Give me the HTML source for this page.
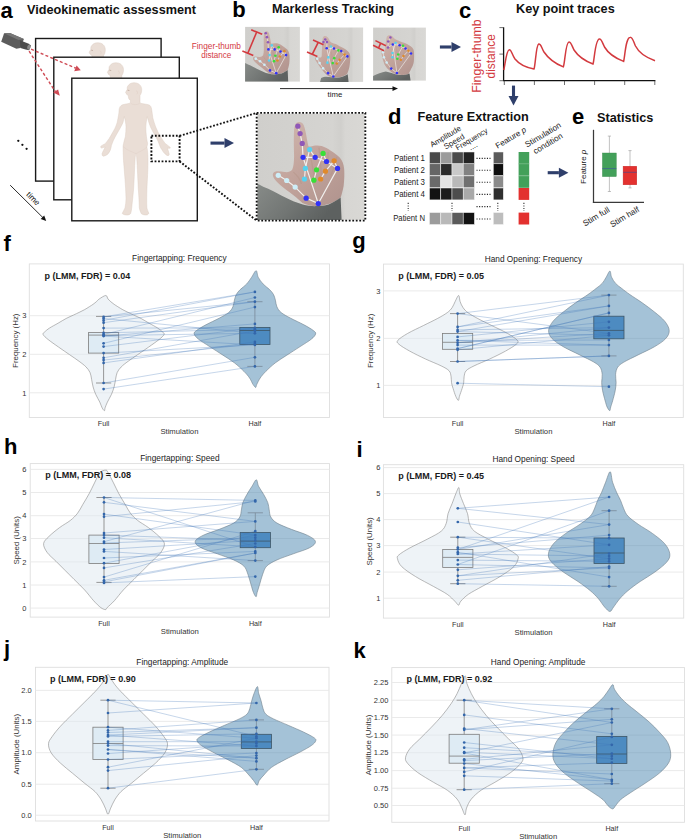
<!DOCTYPE html>
<html><head><meta charset="utf-8"><style>
html,body{margin:0;padding:0;background:#fff;width:685px;height:840px;overflow:hidden;}
svg{display:block;}
text{font-family:"Liberation Sans", sans-serif;}
</style></head><body>
<svg width="685" height="840" viewBox="0 0 685 840" font-family='"Liberation Sans", sans-serif'>
<rect width="685" height="840" fill="#ffffff"/>
<text x="0.50" y="17.80" font-size="22" text-anchor="start" fill="#000" font-weight="bold">a</text>
<text x="27.00" y="13.70" font-size="12.7" text-anchor="start" fill="#111" font-weight="bold">Videokinematic assessment</text>
<defs>
<clipPath id="fc0"><rect x="35.6" y="38.5" width="125.5" height="142.6"/></clipPath>
<clipPath id="fc1"><rect x="53.8" y="57.2" width="125.5" height="142.6"/></clipPath>
<clipPath id="fc2"><rect x="71.8" y="78.2" width="125.5" height="142.6"/></clipPath>
</defs>
<rect x="35.6" y="38.5" width="125.5" height="142.6" fill="#fff" stroke="#1a1a1a" stroke-width="1.4"/>
<g transform="translate(-36.40,-40.00)" clip-path="url(#fc0)">
<path d="M130.6,100.2 L130.2,103.2 C127,104 122.5,104.3 121.3,105.4 C119.8,106.6 119.3,108 119.1,110 L118.9,113 C118.3,117 117.7,120 117.2,122.4 C116,126 115,128.5 113.7,130.6 C112,133.5 110.5,136.5 109,138.7 C107.8,140.5 106.5,142 105.5,143.4 C104,144.5 101.8,145.3 100.8,146.3 C100.6,147.2 101,148 101.4,148.1 C102.8,147.8 104,147.3 105.2,147 C104,149.5 102.5,152 102,153.9 C102.2,155 102.6,156.2 103.2,156.2 C104.5,156 105.8,155.6 106.7,155.1 C108.3,153.8 109.5,152 110.2,150.4 C110.8,149 111.2,147 111.4,145.5 C112.5,142 114,139 115.4,136.4 C117,133.5 118.8,130.5 120.1,128.2 C121.5,125.8 122.4,124 123,122.4 C123.6,120 124,118 124.3,116.5 C125.2,120 126,124 126,127 C126,130 125.8,133 125.4,136.4 C124.8,139 124,141 123.6,143.4 C123.2,145 123,146 123.1,147.1 C123.2,152 123.3,156 123.5,160.4 C124,167 124.6,173 125,179.4 C125.5,186 125.9,192 126,198.4 C126,202 125.6,205 125,207.9 C124.2,210 122.8,211.8 122.2,213.5 C123.5,214.6 125.2,215 127,215 C128.5,215 129.8,214.6 130.7,213.5 C131.2,211.5 131.6,209.5 131.7,207.9 C132.5,200 133.2,194 133.6,188.9 C134,182 134.3,176 134.5,169.9 C134.8,164 135.1,158 135.5,154.7 C135.8,153.3 136.1,153.3 136.4,154.7 C136.8,158 137.1,164 137.4,169.9 C137.7,176 138,182 138.3,188.9 C138.7,194 139.1,200 139.3,207.9 C139.6,209.5 140.3,211.5 141.2,213.5 C142.5,214.6 144.2,215 146,215 C147.5,215 148.4,214.4 148.8,213.2 C148.2,211.5 147.2,209.8 146.9,207.9 C146.6,203 146.7,196 146.9,188.9 C147.2,182 147.6,176 147.8,169.9 C148,164 148,158 147.8,154.7 C147.6,151 147.3,149 146.9,147.1 C147.2,145.5 147.5,144.5 147.6,143.4 C147.2,141 146.6,139 146.4,136.4 C146,133 145.8,130 145.8,127 C145.8,124 146.6,120 147.2,116.5 C148.2,120 149.2,124 150.5,127 C152,130.5 154,133.5 155.7,136.4 C157.3,139.5 158.8,142.5 159.8,145.7 C160.5,147.5 161,148.5 161.6,149.2 C162.5,151 163.8,152.8 165.1,153.9 C166,154.8 167,155.5 168,155.7 C168.8,155.5 169.3,154.8 169.2,153.9 C168.8,152 168,150 167.4,148.1 C168.4,148.3 169.5,148.5 170.3,148.1 C170.4,147.5 170.1,147 169.7,146.9 C168.5,145.8 166.5,144.5 165.1,143.4 C163.5,141 161.8,138.8 160.4,136.4 C158.5,133.5 157,130 155.7,127 C154.5,124 153.5,120.5 152.8,117.7 C152.3,114.5 152,111.5 151.6,109 C151.2,107 150.6,106 149.9,105.4 C148.5,104.3 143.5,104 140.2,103.2 L140,101.4 L140,95.5 C140.8,94.5 141.7,92.5 141.7,89.7 C141.7,85.5 138.5,82.7 134.1,82.7 C131.5,82.7 129,83.8 127.7,86.2 C127.2,86.8 127.2,88 127.2,89.5 C126.6,90.5 125.8,91.5 125.6,92.6 C126.2,93 126.3,93.5 126.3,94 C126.5,94.6 127,94.5 128,95 C128.5,96 128.4,97.5 128.9,99 C129,99.5 129.8,99.8 130.6,100.2 Z" fill="#eaded6" stroke="#dccbc1" stroke-width="0.45"/>
<path d="M127.6,90.2 L129.4,90.5" stroke="#a88d80" stroke-width="0.55" fill="none"/>
<path d="M136.2,90.8 C137.8,91 138,93.5 136.6,94.2" stroke="#dccbc1" stroke-width="0.5" fill="none"/>
<path d="M131,103.5 C133,105 137,105 139.5,103.5 M123.5,147 C127,150 132,152 135.8,153.5 M147,147 C144,150 139,152 136.2,153.5" fill="none" stroke="#dccbc1" stroke-width="0.35"/>
</g>
<rect x="53.8" y="57.2" width="125.5" height="142.6" fill="#fff" stroke="#1a1a1a" stroke-width="1.4"/>
<g transform="translate(-18.20,-20.00)" clip-path="url(#fc1)">
<path d="M130.6,100.2 L130.2,103.2 C127,104 122.5,104.3 121.3,105.4 C119.8,106.6 119.3,108 119.1,110 L118.9,113 C118.3,117 117.7,120 117.2,122.4 C116,126 115,128.5 113.7,130.6 C112,133.5 110.5,136.5 109,138.7 C107.8,140.5 106.5,142 105.5,143.4 C104,144.5 101.8,145.3 100.8,146.3 C100.6,147.2 101,148 101.4,148.1 C102.8,147.8 104,147.3 105.2,147 C104,149.5 102.5,152 102,153.9 C102.2,155 102.6,156.2 103.2,156.2 C104.5,156 105.8,155.6 106.7,155.1 C108.3,153.8 109.5,152 110.2,150.4 C110.8,149 111.2,147 111.4,145.5 C112.5,142 114,139 115.4,136.4 C117,133.5 118.8,130.5 120.1,128.2 C121.5,125.8 122.4,124 123,122.4 C123.6,120 124,118 124.3,116.5 C125.2,120 126,124 126,127 C126,130 125.8,133 125.4,136.4 C124.8,139 124,141 123.6,143.4 C123.2,145 123,146 123.1,147.1 C123.2,152 123.3,156 123.5,160.4 C124,167 124.6,173 125,179.4 C125.5,186 125.9,192 126,198.4 C126,202 125.6,205 125,207.9 C124.2,210 122.8,211.8 122.2,213.5 C123.5,214.6 125.2,215 127,215 C128.5,215 129.8,214.6 130.7,213.5 C131.2,211.5 131.6,209.5 131.7,207.9 C132.5,200 133.2,194 133.6,188.9 C134,182 134.3,176 134.5,169.9 C134.8,164 135.1,158 135.5,154.7 C135.8,153.3 136.1,153.3 136.4,154.7 C136.8,158 137.1,164 137.4,169.9 C137.7,176 138,182 138.3,188.9 C138.7,194 139.1,200 139.3,207.9 C139.6,209.5 140.3,211.5 141.2,213.5 C142.5,214.6 144.2,215 146,215 C147.5,215 148.4,214.4 148.8,213.2 C148.2,211.5 147.2,209.8 146.9,207.9 C146.6,203 146.7,196 146.9,188.9 C147.2,182 147.6,176 147.8,169.9 C148,164 148,158 147.8,154.7 C147.6,151 147.3,149 146.9,147.1 C147.2,145.5 147.5,144.5 147.6,143.4 C147.2,141 146.6,139 146.4,136.4 C146,133 145.8,130 145.8,127 C145.8,124 146.6,120 147.2,116.5 C148.2,120 149.2,124 150.5,127 C152,130.5 154,133.5 155.7,136.4 C157.3,139.5 158.8,142.5 159.8,145.7 C160.5,147.5 161,148.5 161.6,149.2 C162.5,151 163.8,152.8 165.1,153.9 C166,154.8 167,155.5 168,155.7 C168.8,155.5 169.3,154.8 169.2,153.9 C168.8,152 168,150 167.4,148.1 C168.4,148.3 169.5,148.5 170.3,148.1 C170.4,147.5 170.1,147 169.7,146.9 C168.5,145.8 166.5,144.5 165.1,143.4 C163.5,141 161.8,138.8 160.4,136.4 C158.5,133.5 157,130 155.7,127 C154.5,124 153.5,120.5 152.8,117.7 C152.3,114.5 152,111.5 151.6,109 C151.2,107 150.6,106 149.9,105.4 C148.5,104.3 143.5,104 140.2,103.2 L140,101.4 L140,95.5 C140.8,94.5 141.7,92.5 141.7,89.7 C141.7,85.5 138.5,82.7 134.1,82.7 C131.5,82.7 129,83.8 127.7,86.2 C127.2,86.8 127.2,88 127.2,89.5 C126.6,90.5 125.8,91.5 125.6,92.6 C126.2,93 126.3,93.5 126.3,94 C126.5,94.6 127,94.5 128,95 C128.5,96 128.4,97.5 128.9,99 C129,99.5 129.8,99.8 130.6,100.2 Z" fill="#eaded6" stroke="#dccbc1" stroke-width="0.45"/>
<path d="M127.6,90.2 L129.4,90.5" stroke="#a88d80" stroke-width="0.55" fill="none"/>
<path d="M136.2,90.8 C137.8,91 138,93.5 136.6,94.2" stroke="#dccbc1" stroke-width="0.5" fill="none"/>
<path d="M131,103.5 C133,105 137,105 139.5,103.5 M123.5,147 C127,150 132,152 135.8,153.5 M147,147 C144,150 139,152 136.2,153.5" fill="none" stroke="#dccbc1" stroke-width="0.35"/>
</g>
<rect x="71.8" y="78.2" width="125.5" height="142.6" fill="#fff" stroke="#1a1a1a" stroke-width="1.4"/>
<g transform="translate(0.00,0.00)" clip-path="url(#fc2)">
<path d="M130.6,100.2 L130.2,103.2 C127,104 122.5,104.3 121.3,105.4 C119.8,106.6 119.3,108 119.1,110 L118.9,113 C118.3,117 117.7,120 117.2,122.4 C116,126 115,128.5 113.7,130.6 C112,133.5 110.5,136.5 109,138.7 C107.8,140.5 106.5,142 105.5,143.4 C104,144.5 101.8,145.3 100.8,146.3 C100.6,147.2 101,148 101.4,148.1 C102.8,147.8 104,147.3 105.2,147 C104,149.5 102.5,152 102,153.9 C102.2,155 102.6,156.2 103.2,156.2 C104.5,156 105.8,155.6 106.7,155.1 C108.3,153.8 109.5,152 110.2,150.4 C110.8,149 111.2,147 111.4,145.5 C112.5,142 114,139 115.4,136.4 C117,133.5 118.8,130.5 120.1,128.2 C121.5,125.8 122.4,124 123,122.4 C123.6,120 124,118 124.3,116.5 C125.2,120 126,124 126,127 C126,130 125.8,133 125.4,136.4 C124.8,139 124,141 123.6,143.4 C123.2,145 123,146 123.1,147.1 C123.2,152 123.3,156 123.5,160.4 C124,167 124.6,173 125,179.4 C125.5,186 125.9,192 126,198.4 C126,202 125.6,205 125,207.9 C124.2,210 122.8,211.8 122.2,213.5 C123.5,214.6 125.2,215 127,215 C128.5,215 129.8,214.6 130.7,213.5 C131.2,211.5 131.6,209.5 131.7,207.9 C132.5,200 133.2,194 133.6,188.9 C134,182 134.3,176 134.5,169.9 C134.8,164 135.1,158 135.5,154.7 C135.8,153.3 136.1,153.3 136.4,154.7 C136.8,158 137.1,164 137.4,169.9 C137.7,176 138,182 138.3,188.9 C138.7,194 139.1,200 139.3,207.9 C139.6,209.5 140.3,211.5 141.2,213.5 C142.5,214.6 144.2,215 146,215 C147.5,215 148.4,214.4 148.8,213.2 C148.2,211.5 147.2,209.8 146.9,207.9 C146.6,203 146.7,196 146.9,188.9 C147.2,182 147.6,176 147.8,169.9 C148,164 148,158 147.8,154.7 C147.6,151 147.3,149 146.9,147.1 C147.2,145.5 147.5,144.5 147.6,143.4 C147.2,141 146.6,139 146.4,136.4 C146,133 145.8,130 145.8,127 C145.8,124 146.6,120 147.2,116.5 C148.2,120 149.2,124 150.5,127 C152,130.5 154,133.5 155.7,136.4 C157.3,139.5 158.8,142.5 159.8,145.7 C160.5,147.5 161,148.5 161.6,149.2 C162.5,151 163.8,152.8 165.1,153.9 C166,154.8 167,155.5 168,155.7 C168.8,155.5 169.3,154.8 169.2,153.9 C168.8,152 168,150 167.4,148.1 C168.4,148.3 169.5,148.5 170.3,148.1 C170.4,147.5 170.1,147 169.7,146.9 C168.5,145.8 166.5,144.5 165.1,143.4 C163.5,141 161.8,138.8 160.4,136.4 C158.5,133.5 157,130 155.7,127 C154.5,124 153.5,120.5 152.8,117.7 C152.3,114.5 152,111.5 151.6,109 C151.2,107 150.6,106 149.9,105.4 C148.5,104.3 143.5,104 140.2,103.2 L140,101.4 L140,95.5 C140.8,94.5 141.7,92.5 141.7,89.7 C141.7,85.5 138.5,82.7 134.1,82.7 C131.5,82.7 129,83.8 127.7,86.2 C127.2,86.8 127.2,88 127.2,89.5 C126.6,90.5 125.8,91.5 125.6,92.6 C126.2,93 126.3,93.5 126.3,94 C126.5,94.6 127,94.5 128,95 C128.5,96 128.4,97.5 128.9,99 C129,99.5 129.8,99.8 130.6,100.2 Z" fill="#eaded6" stroke="#dccbc1" stroke-width="0.45"/>
<path d="M127.6,90.2 L129.4,90.5" stroke="#a88d80" stroke-width="0.55" fill="none"/>
<path d="M136.2,90.8 C137.8,91 138,93.5 136.6,94.2" stroke="#dccbc1" stroke-width="0.5" fill="none"/>
<path d="M131,103.5 C133,105 137,105 139.5,103.5 M123.5,147 C127,150 132,152 135.8,153.5 M147,147 C144,150 139,152 136.2,153.5" fill="none" stroke="#dccbc1" stroke-width="0.35"/>
</g>
<g>
<polygon points="4.1,33.3 9.9,33.0 23.9,39.1 20.4,48.1 16.4,48.7 1.2,41.7" fill="#5c5c5c"/>
<polygon points="4.1,33.3 9.9,33.0 23.9,39.1 18.5,40.0" fill="#777"/>
<polygon points="19.9,40.3 27.5,43.2 30.9,45.2 29.2,50.2 25.5,49.5 20.4,47.9" fill="#4c4c4c"/>
<ellipse cx="28.9" cy="47.2" rx="1.7" ry="2.4" fill="#8a8a8a" transform="rotate(20 28.9 47.2)"/>
</g>
<g stroke="#cf4b55" stroke-width="1.4" stroke-dasharray="3,2.2" fill="none">
<line x1="31.1" y1="49.2" x2="75.8" y2="68.2"/>
<line x1="29.1" y1="51.2" x2="55.4" y2="91.7"/>
</g>
<polygon points="80.8,70.2 74.2,71.2 76.6,65.5" fill="#cf4b55"/>
<polygon points="59.8,95.8 53.2,92.6 58.1,89.4" fill="#cf4b55"/>
<circle cx="18.3" cy="140.8" r="1.15" fill="#111"/>
<circle cx="22.4" cy="144.8" r="1.15" fill="#111"/>
<circle cx="26.6" cy="148.8" r="1.15" fill="#111"/>
<line x1="10.2" y1="185.2" x2="44.5" y2="219.2" stroke="#111" stroke-width="0.9"/>
<polygon points="46.2,220.9 40.7,219.0 44.2,215.5" fill="#111"/>
<text x="31.30" y="200.60" font-size="8.2" text-anchor="middle" fill="#111" transform="rotate(45 31.3 200.6)">time</text>
<g stroke="#111" stroke-width="1.9" stroke-dasharray="1.8,1.7" fill="none">
<rect x="151.4" y="135.8" width="28.2" height="25.6"/>
<line x1="179.6" y1="135.8" x2="256.7" y2="112.9"/>
<line x1="179.6" y1="161.4" x2="256.7" y2="220.6"/>
</g>
<line x1="210.5" y1="143.1" x2="224.50" y2="143.10" stroke="#2f3f6b" stroke-width="3.1"/>
<polygon points="234.00,143.10 224.50,148.10 224.50,138.10" fill="#2f3f6b"/>
<g transform="translate(257.50,113.70) scale(1.0700,1.0620)">
<defs><linearGradient id="bg1" x1="0" y1="0" x2="1" y2="0"><stop offset="0" stop-color="#d0cfcc"/><stop offset="0.7" stop-color="#d5d4d1"/><stop offset="0.78" stop-color="#d0cfcc"/><stop offset="0.82" stop-color="#d7d6d3"/><stop offset="1" stop-color="#d9d8d5"/></linearGradient><linearGradient id="sk1" x1="0" y1="0" x2="0.8" y2="1"><stop offset="0" stop-color="#d2b9b1"/><stop offset="0.5" stop-color="#c3a59d"/><stop offset="1" stop-color="#b39690"/></linearGradient><linearGradient id="sl1" x1="0" y1="0" x2="1" y2="0.4"><stop offset="0" stop-color="#878b88"/><stop offset="0.55" stop-color="#727674"/><stop offset="1" stop-color="#5d6160"/></linearGradient></defs>
<rect x="0" y="0" width="100" height="100" fill="url(#bg1)"/>
<path d="M34.2,40 C34,33 33.8,26 34,20 C34.1,16 34.2,13.5 34.8,11.5 C35.5,9.2 37,8 38.8,7.9 C40.8,7.9 42.3,9 43.2,10.8 C44.5,14 45.3,18 46.2,24 C46.8,27 47.2,29.5 47.8,31 C50,31 52,30.3 54,30 C56,29.8 58,29.9 60,30.5 C63,31.5 66,33 68.5,34.8 C71.5,36.8 74.5,38.8 77,41.5 C79.2,44 80.6,47.5 81,52 C81.3,56 81.2,62 80.5,68 C79.8,72 78.8,75.5 77.7,79 C73,83 66,86 58,87 C52,87.5 46,86 42,84 C38,80.5 34,77 30,74 C26,71 22,68 18.5,64.5 C16,62 14.5,60 14.3,57.8 C14.2,56 15.2,54.8 17,54.4 C19.5,54 22.5,54.6 25.5,55 C28.5,55.4 31,54.5 32.5,52.5 C33.7,50 34.1,45 34.2,40 Z" fill="url(#sk1)"/>
<path d="M48,33 C50,42 52,52 53,60 M57.5,32 C58.5,42 59.5,50 59.5,58 M66,36 C66,44 65,52 63.5,58 M74,41 C73,47 71,53 68.5,58 M33.5,55 C37,58 40,62 41,66" fill="none" stroke="#b39385" stroke-width="1.2" opacity="0.45"/>
<path d="M0,65.9 C4,68 7,69.5 10,70.7 C16,73.5 21,76.5 26.1,78.9 C31,81.5 37,84 42.3,85.4 C47,86.6 51,87.2 55.2,87 C59,86.8 63,86.3 66.5,85.4 C71,83.5 75,81 77.7,78.9 L78.6,100 L0,100 Z" fill="url(#sl1)"/>
<path d="M56.8,84.6 L45.5,79.5 L35.2,69.1 L27.3,62.9 L19.4,58.0" fill="none" stroke="#f2f0ee" stroke-width="1.1" stroke-linejoin="round"/>
<path d="M56.8,84.6 L42.6,41.1 L41.8,28.0 L39.8,18.7 L37.7,11.7" fill="none" stroke="#f2f0ee" stroke-width="1.1" stroke-linejoin="round"/>
<path d="M42.6,41.1 L53.9,41.1 L64.5,45.0 L74.8,51.5 L56.8,84.6" fill="none" stroke="#f2f0ee" stroke-width="1.1" stroke-linejoin="round"/>
<path d="M53.9,41.1 L48.7,33.8 L44.7,51.5 L43.9,61.5" fill="none" stroke="#f2f0ee" stroke-width="1.1" stroke-linejoin="round"/>
<path d="M64.5,45.0 L61.3,37.4 L55.2,52.8 L52.7,62.6" fill="none" stroke="#f2f0ee" stroke-width="1.1" stroke-linejoin="round"/>
<path d="M74.8,51.5 L71.6,44.4 L63.5,54.1 L59.0,61.5" fill="none" stroke="#f2f0ee" stroke-width="1.1" stroke-linejoin="round"/>
<circle cx="37.7" cy="11.7" r="2.45" fill="#8f58b8"/>
<circle cx="39.8" cy="18.7" r="2.45" fill="#8f58b8"/>
<circle cx="41.8" cy="28" r="2.45" fill="#8f58b8"/>
<circle cx="48.7" cy="33.8" r="2.45" fill="#56d2f0"/>
<circle cx="44.7" cy="51.5" r="2.45" fill="#56d2f0"/>
<circle cx="43.9" cy="61.5" r="2.45" fill="#56d2f0"/>
<circle cx="42.6" cy="41.1" r="2.45" fill="#3232f6"/>
<circle cx="53.9" cy="41.1" r="2.45" fill="#3232f6"/>
<circle cx="64.5" cy="45" r="2.45" fill="#3232f6"/>
<circle cx="74.8" cy="51.5" r="2.45" fill="#3232f6"/>
<circle cx="45.5" cy="79.5" r="2.45" fill="#3232f6"/>
<circle cx="56.8" cy="84.6" r="2.45" fill="#3232f6"/>
<circle cx="61.3" cy="37.4" r="2.45" fill="#37e037"/>
<circle cx="55.2" cy="52.8" r="2.45" fill="#37e037"/>
<circle cx="52.7" cy="62.6" r="2.45" fill="#37e037"/>
<circle cx="71.6" cy="44.4" r="2.45" fill="#e08a2c"/>
<circle cx="63.5" cy="54.1" r="2.45" fill="#e08a2c"/>
<circle cx="59" cy="61.5" r="2.45" fill="#e08a2c"/>
<circle cx="19.4" cy="58" r="2.45" fill="#cdeef8"/>
<circle cx="27.3" cy="62.9" r="2.45" fill="#cdeef8"/>
<circle cx="35.2" cy="69.1" r="2.45" fill="#cdeef8"/>
</g>
<rect x="256.7" y="112.9" width="108.6" height="107.7" fill="none" stroke="#111" stroke-width="1.9" stroke-dasharray="1.8,1.7"/>
<text x="232.30" y="16.70" font-size="22" text-anchor="start" fill="#000" font-weight="bold">b</text>
<text x="272.00" y="12.90" font-size="12.7" text-anchor="start" fill="#111" font-weight="bold">Markerless Tracking</text>
<g transform="translate(245.10,26.90) scale(0.5480,0.5470)">
<defs><linearGradient id="bg1" x1="0" y1="0" x2="1" y2="0"><stop offset="0" stop-color="#d0cfcc"/><stop offset="0.7" stop-color="#d5d4d1"/><stop offset="0.78" stop-color="#d0cfcc"/><stop offset="0.82" stop-color="#d7d6d3"/><stop offset="1" stop-color="#d9d8d5"/></linearGradient><linearGradient id="sk1" x1="0" y1="0" x2="0.8" y2="1"><stop offset="0" stop-color="#d2b9b1"/><stop offset="0.5" stop-color="#c3a59d"/><stop offset="1" stop-color="#b39690"/></linearGradient><linearGradient id="sl1" x1="0" y1="0" x2="1" y2="0.4"><stop offset="0" stop-color="#878b88"/><stop offset="0.55" stop-color="#727674"/><stop offset="1" stop-color="#5d6160"/></linearGradient></defs>
<rect x="0" y="0" width="100" height="100" fill="url(#bg1)"/>
<path d="M34.2,40 C34,33 33.8,26 34,20 C34.1,16 34.2,13.5 34.8,11.5 C35.5,9.2 37,8 38.8,7.9 C40.8,7.9 42.3,9 43.2,10.8 C44.5,14 45.3,18 46.2,24 C46.8,27 47.2,29.5 47.8,31 C50,31 52,30.3 54,30 C56,29.8 58,29.9 60,30.5 C63,31.5 66,33 68.5,34.8 C71.5,36.8 74.5,38.8 77,41.5 C79.2,44 80.6,47.5 81,52 C81.3,56 81.2,62 80.5,68 C79.8,72 78.8,75.5 77.7,79 C73,83 66,86 58,87 C52,87.5 46,86 42,84 C38,80.5 34,77 30,74 C26,71 22,68 18.5,64.5 C16,62 14.5,60 14.3,57.8 C14.2,56 15.2,54.8 17,54.4 C19.5,54 22.5,54.6 25.5,55 C28.5,55.4 31,54.5 32.5,52.5 C33.7,50 34.1,45 34.2,40 Z" fill="url(#sk1)"/>
<path d="M48,33 C50,42 52,52 53,60 M57.5,32 C58.5,42 59.5,50 59.5,58 M66,36 C66,44 65,52 63.5,58 M74,41 C73,47 71,53 68.5,58 M33.5,55 C37,58 40,62 41,66" fill="none" stroke="#b39385" stroke-width="1.2" opacity="0.45"/>
<path d="M0,65.9 C4,68 7,69.5 10,70.7 C16,73.5 21,76.5 26.1,78.9 C31,81.5 37,84 42.3,85.4 C47,86.6 51,87.2 55.2,87 C59,86.8 63,86.3 66.5,85.4 C71,83.5 75,81 77.7,78.9 L78.6,100 L0,100 Z" fill="url(#sl1)"/>
<path d="M56.8,84.6 L45.5,79.5 L35.2,69.1 L27.3,62.9 L19.4,58.0" fill="none" stroke="#f2f0ee" stroke-width="1.2" stroke-linejoin="round"/>
<path d="M56.8,84.6 L42.6,41.1 L41.8,28.0 L39.8,18.7 L37.7,11.7" fill="none" stroke="#f2f0ee" stroke-width="1.2" stroke-linejoin="round"/>
<path d="M42.6,41.1 L53.9,41.1 L64.5,45.0 L74.8,51.5 L56.8,84.6" fill="none" stroke="#f2f0ee" stroke-width="1.2" stroke-linejoin="round"/>
<path d="M53.9,41.1 L48.7,33.8 L44.7,51.5 L43.9,61.5" fill="none" stroke="#f2f0ee" stroke-width="1.2" stroke-linejoin="round"/>
<path d="M64.5,45.0 L61.3,37.4 L55.2,52.8 L52.7,62.6" fill="none" stroke="#f2f0ee" stroke-width="1.2" stroke-linejoin="round"/>
<path d="M74.8,51.5 L71.6,44.4 L63.5,54.1 L59.0,61.5" fill="none" stroke="#f2f0ee" stroke-width="1.2" stroke-linejoin="round"/>
<circle cx="37.7" cy="11.7" r="2.4" fill="#8f58b8"/>
<circle cx="39.8" cy="18.7" r="2.4" fill="#8f58b8"/>
<circle cx="41.8" cy="28" r="2.4" fill="#8f58b8"/>
<circle cx="48.7" cy="33.8" r="2.4" fill="#56d2f0"/>
<circle cx="44.7" cy="51.5" r="2.4" fill="#56d2f0"/>
<circle cx="43.9" cy="61.5" r="2.4" fill="#56d2f0"/>
<circle cx="42.6" cy="41.1" r="2.4" fill="#3232f6"/>
<circle cx="53.9" cy="41.1" r="2.4" fill="#3232f6"/>
<circle cx="64.5" cy="45" r="2.4" fill="#3232f6"/>
<circle cx="74.8" cy="51.5" r="2.4" fill="#3232f6"/>
<circle cx="45.5" cy="79.5" r="2.4" fill="#3232f6"/>
<circle cx="56.8" cy="84.6" r="2.4" fill="#3232f6"/>
<circle cx="61.3" cy="37.4" r="2.4" fill="#37e037"/>
<circle cx="55.2" cy="52.8" r="2.4" fill="#37e037"/>
<circle cx="52.7" cy="62.6" r="2.4" fill="#37e037"/>
<circle cx="71.6" cy="44.4" r="2.4" fill="#e08a2c"/>
<circle cx="63.5" cy="54.1" r="2.4" fill="#e08a2c"/>
<circle cx="59" cy="61.5" r="2.4" fill="#e08a2c"/>
<circle cx="19.4" cy="58" r="2.4" fill="#cdeef8"/>
<circle cx="27.3" cy="62.9" r="2.4" fill="#cdeef8"/>
<circle cx="35.2" cy="69.1" r="2.4" fill="#cdeef8"/>
</g>
<g transform="translate(309.30,27.50) scale(0.5380,0.5440)">
<defs><linearGradient id="bg2" x1="0" y1="0" x2="1" y2="0"><stop offset="0" stop-color="#d0cfcc"/><stop offset="0.7" stop-color="#d5d4d1"/><stop offset="0.78" stop-color="#d0cfcc"/><stop offset="0.82" stop-color="#d7d6d3"/><stop offset="1" stop-color="#d9d8d5"/></linearGradient><linearGradient id="sk2" x1="0" y1="0" x2="0.8" y2="1"><stop offset="0" stop-color="#d2b9b1"/><stop offset="0.5" stop-color="#c3a59d"/><stop offset="1" stop-color="#b39690"/></linearGradient><linearGradient id="sl2" x1="0" y1="0" x2="1" y2="0.4"><stop offset="0" stop-color="#878b88"/><stop offset="0.55" stop-color="#727674"/><stop offset="1" stop-color="#5d6160"/></linearGradient></defs>
<rect x="0" y="0" width="100" height="100" fill="url(#bg2)"/>
<path d="M23.1,51.8 C23.2,45 23.5,38 23.9,34.1 C24.2,28 24.3,23 24.8,19.6 C25.5,16.5 27.5,15.5 29.8,15.6 C32.5,15.8 34.8,18 36.5,21 C38,24 39.5,26.5 41,27.7 C44,29 47,30 49,30.5 C52,31.5 54,33 55.4,34.1 C58,35.2 61,36.2 64,38 C67,39.5 70,42 72.5,44.5 C74.5,46.5 75.6,48.5 76,52 C76.4,56 76,62 75.2,67.8 C74.5,74 72.5,80 70.4,85.5 C66,89 58,91.5 50,92 C45,92.3 40,91.5 36,89.5 C32,87.5 28,83 24,78 C20.5,74 16.5,68 13,62.5 C11.2,59.5 10.2,57.5 10.4,56 C11,54.6 12.5,54.3 14.5,54.6 C17,55 19.5,55.8 21,55 C22.5,54.2 23,53 23.1,51.8 Z" fill="url(#sk2)"/>
<path d="M38,30 C40,40 42,50 43,58 M47,33 C49,42 50,50 50,58 M58,38 C58,45 57,52 55,58 M67,43 C66,49 63,55 60,60" fill="none" stroke="#b39385" stroke-width="1.2" opacity="0.45"/>
<path d="M22,93 C30,88 40,92 50,92.5 C58,92.5 66,89.5 71.5,86 L73,100 L20,100 Z" fill="url(#sl2)"/>
<path d="M44.6,90.0 L34.9,83.9 L25.6,75.1 L19.1,65.4 L14.7,57.4" fill="none" stroke="#f2f0ee" stroke-width="1.2" stroke-linejoin="round"/>
<path d="M44.6,90.0 L32.4,38.1 L32.9,26.8 L26.4,26.8 L29.6,22.0" fill="none" stroke="#f2f0ee" stroke-width="1.2" stroke-linejoin="round"/>
<path d="M32.4,38.1 L45.9,38.6 L59.3,43.4 L70.7,53.1 L44.6,90.0" fill="none" stroke="#f2f0ee" stroke-width="1.2" stroke-linejoin="round"/>
<path d="M45.9,38.6 L40.2,34.9 L35.3,55.0 L33.7,64.6" fill="none" stroke="#f2f0ee" stroke-width="1.2" stroke-linejoin="round"/>
<path d="M59.3,43.4 L54.1,42.1 L46.3,56.3 L43.5,65.4" fill="none" stroke="#f2f0ee" stroke-width="1.2" stroke-linejoin="round"/>
<path d="M70.7,53.1 L65.5,49.8 L56.5,59.5 L51.1,66.2" fill="none" stroke="#f2f0ee" stroke-width="1.2" stroke-linejoin="round"/>
<circle cx="29.6" cy="22" r="2.4" fill="#8f58b8"/>
<circle cx="26.4" cy="26.8" r="2.4" fill="#8f58b8"/>
<circle cx="32.9" cy="26.8" r="2.4" fill="#8f58b8"/>
<circle cx="40.2" cy="34.9" r="2.4" fill="#56d2f0"/>
<circle cx="35.3" cy="55" r="2.4" fill="#56d2f0"/>
<circle cx="33.7" cy="64.6" r="2.4" fill="#56d2f0"/>
<circle cx="32.4" cy="38.1" r="2.4" fill="#3232f6"/>
<circle cx="45.9" cy="38.6" r="2.4" fill="#3232f6"/>
<circle cx="59.3" cy="43.4" r="2.4" fill="#3232f6"/>
<circle cx="70.7" cy="53.1" r="2.4" fill="#3232f6"/>
<circle cx="34.9" cy="83.9" r="2.4" fill="#3232f6"/>
<circle cx="44.6" cy="90" r="2.4" fill="#3232f6"/>
<circle cx="54.1" cy="42.1" r="2.4" fill="#37e037"/>
<circle cx="46.3" cy="56.3" r="2.4" fill="#37e037"/>
<circle cx="43.5" cy="65.4" r="2.4" fill="#37e037"/>
<circle cx="65.5" cy="49.8" r="2.4" fill="#e08a2c"/>
<circle cx="56.5" cy="59.5" r="2.4" fill="#e08a2c"/>
<circle cx="51.1" cy="66.2" r="2.4" fill="#e08a2c"/>
<circle cx="14.7" cy="57.4" r="2.4" fill="#cdeef8"/>
<circle cx="19.1" cy="65.4" r="2.4" fill="#cdeef8"/>
<circle cx="25.6" cy="75.1" r="2.4" fill="#cdeef8"/>
</g>
<g transform="translate(373.10,27.60) scale(0.5280,0.5300)">
<defs><linearGradient id="bg3" x1="0" y1="0" x2="1" y2="0"><stop offset="0" stop-color="#d0cfcc"/><stop offset="0.7" stop-color="#d5d4d1"/><stop offset="0.78" stop-color="#d0cfcc"/><stop offset="0.82" stop-color="#d7d6d3"/><stop offset="1" stop-color="#d9d8d5"/></linearGradient><linearGradient id="sk3" x1="0" y1="0" x2="0.8" y2="1"><stop offset="0" stop-color="#d2b9b1"/><stop offset="0.5" stop-color="#c3a59d"/><stop offset="1" stop-color="#b39690"/></linearGradient><linearGradient id="sl3" x1="0" y1="0" x2="1" y2="0.4"><stop offset="0" stop-color="#878b88"/><stop offset="0.55" stop-color="#727674"/><stop offset="1" stop-color="#5d6160"/></linearGradient></defs>
<rect x="0" y="0" width="100" height="100" fill="url(#bg3)"/>
<path d="M23.2,36.4 C23.5,30 24.5,24 25.7,18.2 C26.8,15 29.5,14 32.5,14.5 C35.5,15.2 37.5,17 38.8,19.2 C40.5,21 42.3,22.3 43.9,23.1 C47,24.5 50,25.5 53,26.5 C55,27.2 56.3,27.7 57.2,28.1 C60,29 62.5,30 65,31.5 C67,32.7 69,33.7 70.5,34.7 C73,36.3 75.3,38.5 76.5,41.5 C77.3,44 77.6,48 77.6,52 C77.7,57 77.5,61 77.1,64.5 C76.5,69 75,73.5 72.1,77.7 C70,82 68.5,85.5 67.2,87.6 C63,89 58,89.5 54,89.3 C49,89 45,88.5 41,87 C37,85.5 33,83 29.5,79.5 C26,76 23,72.5 21.2,68.5 C19.5,64.5 18.2,60 17.2,55.5 C16.3,51.5 15.7,48 15.6,45.5 C15.8,43.7 17,42.8 18.6,43 C20.3,43.3 21.5,44 22.3,43.8 C23,42 23.1,39.5 23.2,36.4 Z" fill="url(#sk3)"/>
<path d="M43,27 C44,36 45,45 45.5,52 M51,28 C52,37 52.5,45 52,52 M60,31 C60,38 59,45 57,52 M68,36 C67,43 64,49 61,55" fill="none" stroke="#b39385" stroke-width="1.2" opacity="0.45"/>
<path d="M0,91.5 C8,88 16,84 24,83 C32,84 38,88 46,89 C55,90 63,89 69,86.5 L71,100 L0,100 Z" fill="url(#sl3)"/>
<path d="M45.1,85.5 L34.3,77.4 L25.7,65.8 L20.4,55.9 L18.7,46.6" fill="none" stroke="#f2f0ee" stroke-width="1.2" stroke-linejoin="round"/>
<path d="M45.1,85.5 L37.3,31.7 L28.2,37.7 L28.7,26.4 L32.8,18.7" fill="none" stroke="#f2f0ee" stroke-width="1.2" stroke-linejoin="round"/>
<path d="M37.3,31.7 L50.1,33.4 L61.4,39.3 L71.8,48.8 L45.1,85.5" fill="none" stroke="#f2f0ee" stroke-width="1.2" stroke-linejoin="round"/>
<path d="M50.1,33.4 L42.6,28.9 L36.7,47.9 L36.7,55.9" fill="none" stroke="#f2f0ee" stroke-width="1.2" stroke-linejoin="round"/>
<path d="M61.4,39.3 L56.6,34.4 L47.6,50.9 L45.9,58.7" fill="none" stroke="#f2f0ee" stroke-width="1.2" stroke-linejoin="round"/>
<path d="M71.8,48.8 L66.8,43.8 L57.5,53.7 L52.6,60.7" fill="none" stroke="#f2f0ee" stroke-width="1.2" stroke-linejoin="round"/>
<circle cx="32.8" cy="18.7" r="2.4" fill="#8f58b8"/>
<circle cx="28.7" cy="26.4" r="2.4" fill="#8f58b8"/>
<circle cx="28.2" cy="37.7" r="2.4" fill="#8f58b8"/>
<circle cx="42.6" cy="28.9" r="2.4" fill="#56d2f0"/>
<circle cx="36.7" cy="47.9" r="2.4" fill="#56d2f0"/>
<circle cx="36.7" cy="55.9" r="2.4" fill="#56d2f0"/>
<circle cx="37.3" cy="31.7" r="2.4" fill="#3232f6"/>
<circle cx="50.1" cy="33.4" r="2.4" fill="#3232f6"/>
<circle cx="61.4" cy="39.3" r="2.4" fill="#3232f6"/>
<circle cx="71.8" cy="48.8" r="2.4" fill="#3232f6"/>
<circle cx="34.3" cy="77.4" r="2.4" fill="#3232f6"/>
<circle cx="45.1" cy="85.5" r="2.4" fill="#3232f6"/>
<circle cx="56.6" cy="34.4" r="2.4" fill="#37e037"/>
<circle cx="47.6" cy="50.9" r="2.4" fill="#37e037"/>
<circle cx="45.9" cy="58.7" r="2.4" fill="#37e037"/>
<circle cx="66.8" cy="43.8" r="2.4" fill="#e08a2c"/>
<circle cx="57.5" cy="53.7" r="2.4" fill="#e08a2c"/>
<circle cx="52.6" cy="60.7" r="2.4" fill="#e08a2c"/>
<circle cx="18.7" cy="46.6" r="2.4" fill="#cdeef8"/>
<circle cx="20.4" cy="55.9" r="2.4" fill="#cdeef8"/>
<circle cx="25.7" cy="65.8" r="2.4" fill="#cdeef8"/>
</g>
<g stroke="#d33a3f" stroke-width="1.6" stroke-linecap="butt">
<line x1="251.2" y1="29.8" x2="262.2" y2="34.3"/>
<line x1="242.4" y1="51.0" x2="253.3" y2="55.6"/>
<line x1="256.7" y1="32.0" x2="247.8" y2="53.3"/>
<line x1="313.0" y1="39.9" x2="323.5" y2="44.7"/>
<line x1="307.0" y1="52.1" x2="317.4" y2="56.5"/>
<line x1="318.2" y1="42.3" x2="312.2" y2="54.3"/>
<line x1="375.4" y1="40.6" x2="385.9" y2="45.8"/>
<line x1="373.1" y1="45.3" x2="384.0" y2="50.8"/>
<line x1="380.7" y1="43.2" x2="378.5" y2="48.0"/>
</g>
<text x="216.30" y="49.10" font-size="8.4" text-anchor="middle" fill="#d33a3f" textLength="49.2" lengthAdjust="spacingAndGlyphs">Finger-thumb</text>
<text x="216.20" y="58.00" font-size="8.4" text-anchor="middle" fill="#d33a3f" textLength="30.0" lengthAdjust="spacingAndGlyphs">distance</text>
<line x1="280" y1="88.6" x2="394" y2="88.6" stroke="#111" stroke-width="0.9"/>
<polygon points="398,88.6 392.5,86.3 392.5,90.9" fill="#111"/>
<text x="334.90" y="96.60" font-size="7.8" text-anchor="middle" fill="#222">time</text>
<line x1="439.9" y1="47.0" x2="451.50" y2="47.00" stroke="#2f3f6b" stroke-width="3.1"/>
<polygon points="461.00,47.00 451.50,52.00 451.50,42.00" fill="#2f3f6b"/>
<text x="458.90" y="17.60" font-size="22" text-anchor="start" fill="#000" font-weight="bold">c</text>
<text x="516.00" y="12.90" font-size="12.7" text-anchor="start" fill="#111" font-weight="bold">Key point traces</text>
<line x1="503.6" y1="27.3" x2="503.6" y2="80.9" stroke="#111" stroke-width="1.3"/>
<line x1="503.0" y1="80.7" x2="655.4" y2="80.7" stroke="#111" stroke-width="1.3"/>
<line x1="499.4" y1="27.6" x2="503.6" y2="27.6" stroke="#333" stroke-width="0.7"/>
<line x1="499.4" y1="54.1" x2="503.6" y2="54.1" stroke="#333" stroke-width="0.7"/>
<line x1="499.4" y1="80.7" x2="503.6" y2="80.7" stroke="#333" stroke-width="0.7"/>
<line x1="504.3" y1="80.7" x2="504.3" y2="85.0" stroke="#333" stroke-width="0.7"/>
<line x1="534.4" y1="80.7" x2="534.4" y2="85.0" stroke="#333" stroke-width="0.7"/>
<line x1="564.5" y1="80.7" x2="564.5" y2="85.0" stroke="#333" stroke-width="0.7"/>
<line x1="594.6" y1="80.7" x2="594.6" y2="85.0" stroke="#333" stroke-width="0.7"/>
<line x1="624.7" y1="80.7" x2="624.7" y2="85.0" stroke="#333" stroke-width="0.7"/>
<line x1="654.8" y1="80.7" x2="654.8" y2="85.0" stroke="#333" stroke-width="0.7"/>
<path d="M503.8,70 C505.5,62 506.5,50 509.3,49.7 C511.5,49.5 512,55 515,59 C519,64 526,67.5 534,69 C535.5,65 536,45 538.7,44 C541,43.5 541.5,48 544,52 C548,58 555,63.5 563.3,66.9 C565,63 565.5,42.5 568.9,42 C571,41.8 572,46 574,50 C578,56 585,61 593,64 C594.5,60 595,39.5 599.4,39 C601.5,38.8 602.5,43 604.5,47 C608,53 615,58 623.6,61.4 C625,57 625.5,37.5 630.3,37.2 C632.5,37 633.5,41.5 635.5,46 C639,53 646,57.5 655,60.7" fill="none" stroke="#d33a3f" stroke-width="1.5"/>
<text x="481.30" y="56.00" font-size="12.6" text-anchor="middle" fill="#d33a3f" transform="rotate(-90 481.3 56.0)" textLength="73.3" lengthAdjust="spacingAndGlyphs">Finger-thumb</text>
<text x="494.70" y="56.30" font-size="12.6" text-anchor="middle" fill="#d33a3f" transform="rotate(-90 494.7 56.3)" textLength="44.3" lengthAdjust="spacingAndGlyphs">distance</text>
<line x1="513.5" y1="85.6" x2="513.50" y2="96.00" stroke="#2f3f6b" stroke-width="3.1"/>
<polygon points="513.50,105.50 508.50,96.00 518.50,96.00" fill="#2f3f6b"/>
<text x="387.90" y="124.00" font-size="22" text-anchor="start" fill="#000" font-weight="bold">d</text>
<text x="417.40" y="120.60" font-size="12.7" text-anchor="start" fill="#111" font-weight="bold">Feature Extraction</text>
<rect x="429.5" y="152.0" width="11.2" height="11.9" fill="#4a4a4a" stroke="#f4f4f4" stroke-width="0.5"/>
<rect x="440.8" y="152.0" width="11.2" height="11.9" fill="#9b9b9b" stroke="#f4f4f4" stroke-width="0.5"/>
<rect x="452.0" y="152.0" width="11.2" height="11.9" fill="#4b4b4b" stroke="#f4f4f4" stroke-width="0.5"/>
<rect x="463.2" y="152.0" width="11.2" height="11.9" fill="#232323" stroke="#f4f4f4" stroke-width="0.5"/>
<rect x="493.3" y="152.0" width="10.0" height="11.9" fill="#5b5b5b" stroke="#f4f4f4" stroke-width="0.5"/>
<rect x="518.6" y="152.0" width="10.6" height="11.9" fill="#43a05a"/>
<text x="425.00" y="160.70" font-size="8.6" text-anchor="end" fill="#222" textLength="31.1" lengthAdjust="spacingAndGlyphs">Patient 1</text>
<line x1="476.5" y1="158.4" x2="490.5" y2="158.4" stroke="#222" stroke-width="1.1" stroke-dasharray="1.1,1.5"/>
<rect x="429.5" y="163.8" width="11.2" height="11.9" fill="#666666" stroke="#f4f4f4" stroke-width="0.5"/>
<rect x="440.8" y="163.8" width="11.2" height="11.9" fill="#2b2b2b" stroke="#f4f4f4" stroke-width="0.5"/>
<rect x="452.0" y="163.8" width="11.2" height="11.9" fill="#c9c9c9" stroke="#f4f4f4" stroke-width="0.5"/>
<rect x="463.2" y="163.8" width="11.2" height="11.9" fill="#828282" stroke="#f4f4f4" stroke-width="0.5"/>
<rect x="493.3" y="163.8" width="10.0" height="11.9" fill="#0f0f0f" stroke="#f4f4f4" stroke-width="0.5"/>
<rect x="518.6" y="163.8" width="10.6" height="11.9" fill="#43a05a"/>
<text x="425.00" y="172.50" font-size="8.6" text-anchor="end" fill="#222" textLength="31.1" lengthAdjust="spacingAndGlyphs">Patient 2</text>
<line x1="476.5" y1="170.2" x2="490.5" y2="170.2" stroke="#222" stroke-width="1.1" stroke-dasharray="1.1,1.5"/>
<rect x="429.5" y="175.9" width="11.2" height="11.9" fill="#6a6a6a" stroke="#f4f4f4" stroke-width="0.5"/>
<rect x="440.8" y="175.9" width="11.2" height="11.9" fill="#e3e3e3" stroke="#f4f4f4" stroke-width="0.5"/>
<rect x="452.0" y="175.9" width="11.2" height="11.9" fill="#b9b9b9" stroke="#f4f4f4" stroke-width="0.5"/>
<rect x="463.2" y="175.9" width="11.2" height="11.9" fill="#707070" stroke="#f4f4f4" stroke-width="0.5"/>
<rect x="493.3" y="175.9" width="10.0" height="11.9" fill="#8b8b8b" stroke="#f4f4f4" stroke-width="0.5"/>
<rect x="518.6" y="175.9" width="10.6" height="11.9" fill="#43a05a"/>
<text x="425.00" y="184.60" font-size="8.6" text-anchor="end" fill="#222" textLength="31.1" lengthAdjust="spacingAndGlyphs">Patient 3</text>
<line x1="476.5" y1="182.3" x2="490.5" y2="182.3" stroke="#222" stroke-width="1.1" stroke-dasharray="1.1,1.5"/>
<rect x="429.5" y="188.0" width="11.2" height="11.9" fill="#121212" stroke="#f4f4f4" stroke-width="0.5"/>
<rect x="440.8" y="188.0" width="11.2" height="11.9" fill="#1c1c1c" stroke="#f4f4f4" stroke-width="0.5"/>
<rect x="452.0" y="188.0" width="11.2" height="11.9" fill="#4d4d4d" stroke="#f4f4f4" stroke-width="0.5"/>
<rect x="463.2" y="188.0" width="11.2" height="11.9" fill="#a9a9a9" stroke="#f4f4f4" stroke-width="0.5"/>
<rect x="493.3" y="188.0" width="10.0" height="11.9" fill="#2f2f2f" stroke="#f4f4f4" stroke-width="0.5"/>
<rect x="518.6" y="188.0" width="10.6" height="11.9" fill="#e3312f"/>
<text x="425.00" y="196.70" font-size="8.6" text-anchor="end" fill="#222" textLength="31.1" lengthAdjust="spacingAndGlyphs">Patient 4</text>
<line x1="476.5" y1="194.4" x2="490.5" y2="194.4" stroke="#222" stroke-width="1.1" stroke-dasharray="1.1,1.5"/>
<rect x="429.5" y="212.6" width="11.2" height="11.9" fill="#9c9c9c" stroke="#f4f4f4" stroke-width="0.5"/>
<rect x="440.8" y="212.6" width="11.2" height="11.9" fill="#b9b9b9" stroke="#f4f4f4" stroke-width="0.5"/>
<rect x="452.0" y="212.6" width="11.2" height="11.9" fill="#5b5b5b" stroke="#f4f4f4" stroke-width="0.5"/>
<rect x="463.2" y="212.6" width="11.2" height="11.9" fill="#121212" stroke="#f4f4f4" stroke-width="0.5"/>
<rect x="493.3" y="212.6" width="10.0" height="11.9" fill="#bdbdbd" stroke="#f4f4f4" stroke-width="0.5"/>
<rect x="518.6" y="212.6" width="10.6" height="11.9" fill="#e3312f"/>
<text x="425.00" y="221.30" font-size="8.6" text-anchor="end" fill="#222" textLength="31.8" lengthAdjust="spacingAndGlyphs">Patient N</text>
<line x1="476.5" y1="219.0" x2="490.5" y2="219.0" stroke="#222" stroke-width="1.1" stroke-dasharray="1.1,1.5"/>
<line x1="518.6" y1="163.8" x2="529.2" y2="163.8" stroke="#7cc08e" stroke-width="0.6"/>
<line x1="518.6" y1="175.9" x2="529.2" y2="175.9" stroke="#7cc08e" stroke-width="0.6"/>
<line x1="408.2" y1="202.8" x2="408.2" y2="211" stroke="#333" stroke-width="1.1" stroke-dasharray="1.1,1.5"/>
<line x1="452.0" y1="202.8" x2="452.0" y2="211" stroke="#333" stroke-width="1.1" stroke-dasharray="1.1,1.5"/>
<line x1="497.8" y1="202.8" x2="497.8" y2="211" stroke="#333" stroke-width="1.1" stroke-dasharray="1.1,1.5"/>
<line x1="523.9" y1="202.8" x2="523.9" y2="211" stroke="#333" stroke-width="1.1" stroke-dasharray="1.1,1.5"/>
<line x1="476.5" y1="206.6" x2="490.5" y2="206.6" stroke="#222" stroke-width="1.1" stroke-dasharray="1.1,1.5"/>
<text x="432.00" y="147.60" font-size="7.8" text-anchor="start" fill="#222" transform="rotate(-31 432.0 147.6)">Amplitude</text>
<text x="445.80" y="149.60" font-size="7.8" text-anchor="start" fill="#222" transform="rotate(-31 445.8 149.6)">Speed</text>
<text x="457.60" y="150.60" font-size="7.6" text-anchor="start" fill="#222" transform="rotate(-31 457.6 150.6)">Frequency</text>
<text x="470.60" y="150.60" font-size="7.8" text-anchor="start" fill="#222" transform="rotate(-31 470.6 150.6)">....</text>
<text x="497.50" y="148.80" font-size="8.0" text-anchor="start" fill="#222" transform="rotate(-31 497.5 148.8)">Feature <tspan font-style="italic">p</tspan></text>
<text x="527.00" y="147.60" font-size="8.2" text-anchor="start" fill="#222" transform="rotate(-31 527.0 147.6)">Stimulation</text>
<text x="535.20" y="154.30" font-size="8.2" text-anchor="start" fill="#222" transform="rotate(-31 535.2 154.3)">condition</text>
<line x1="547.7" y1="172.7" x2="558.90" y2="172.70" stroke="#2f3f6b" stroke-width="3.1"/>
<polygon points="568.40,172.70 558.90,177.70 558.90,167.70" fill="#2f3f6b"/>
<text x="572.00" y="124.00" font-size="22" text-anchor="start" fill="#000" font-weight="bold">e</text>
<text x="597.00" y="122.20" font-size="12.7" text-anchor="start" fill="#111" font-weight="bold">Statistics</text>
<line x1="593.5" y1="129.8" x2="593.5" y2="203.0" stroke="#3a3a3a" stroke-width="1.25"/>
<line x1="592.9" y1="202.4" x2="644.0" y2="202.4" stroke="#3a3a3a" stroke-width="1.25"/>
<line x1="609.4" y1="136.1" x2="609.4" y2="191.5" stroke="#999" stroke-width="0.6"/>
<line x1="607.8" y1="136.1" x2="611.0" y2="136.1" stroke="#999" stroke-width="0.6"/>
<line x1="607.8" y1="191.5" x2="611.0" y2="191.5" stroke="#999" stroke-width="0.6"/>
<rect x="602.4" y="153.0" width="13.9" height="23.6" fill="#43a05a" stroke="#3a8a4c" stroke-width="0.4"/>
<line x1="602.4" y1="168.6" x2="616.3" y2="168.6" stroke="#3d5a9a" stroke-width="0.7"/>
<line x1="630.0" y1="150.6" x2="630.0" y2="187.9" stroke="#999" stroke-width="0.6"/>
<line x1="628.4" y1="150.6" x2="631.6" y2="150.6" stroke="#999" stroke-width="0.6"/>
<line x1="628.4" y1="187.9" x2="631.6" y2="187.9" stroke="#999" stroke-width="0.6"/>
<rect x="623.1" y="166.2" width="13.7" height="18.6" fill="#e3312f" stroke="#c42a28" stroke-width="0.4"/>
<line x1="623.1" y1="172.3" x2="636.8" y2="172.3" stroke="#4a4a8a" stroke-width="0.7"/>
<text x="585.60" y="166.80" font-size="8.0" text-anchor="middle" fill="#222" transform="rotate(-90 585.6 166.8)">Feature <tspan font-style="italic">p</tspan></text>
<text x="585.00" y="226.60" font-size="8.3" text-anchor="start" fill="#222" transform="rotate(-31 585.0 226.6)">Stim full</text>
<text x="612.20" y="227.60" font-size="8.3" text-anchor="start" fill="#222" transform="rotate(-31 612.2 227.6)">Stim half</text>
<rect x="29.3" y="263.9" width="300.20" height="153.60" fill="#ffffff" stroke="#dedede" stroke-width="0.9"/>
<line x1="29.3" y1="315.7" x2="329.5" y2="315.7" stroke="#e8e8e8" stroke-width="0.9"/>
<line x1="29.3" y1="354.3" x2="329.5" y2="354.3" stroke="#e8e8e8" stroke-width="0.9"/>
<line x1="29.3" y1="392.8" x2="329.5" y2="392.8" stroke="#e8e8e8" stroke-width="0.9"/>
<text x="26.50" y="318.40" font-size="7.5" text-anchor="end" fill="#333">3</text>
<text x="26.50" y="357.00" font-size="7.5" text-anchor="end" fill="#333">2</text>
<text x="26.50" y="395.50" font-size="7.5" text-anchor="end" fill="#333">1</text>
<text x="17.90" y="340.70" font-size="7.9" text-anchor="middle" fill="#333" transform="rotate(-90 17.9 340.7)">Frequency (Hz)</text>
<text x="179.40" y="261.30" font-size="8.3" text-anchor="middle" fill="#222">Fingertapping: Frequency</text>
<text x="103.60" y="426.10" font-size="7.2" text-anchor="middle" fill="#333">Full</text>
<text x="254.90" y="426.10" font-size="7.2" text-anchor="middle" fill="#333">Half</text>
<text x="179.40" y="434.40" font-size="7.7" text-anchor="middle" fill="#333">Stimulation</text>
<path d="M105.80,295.50 C107.27,295.50 107.15,297.95 108.00,299.00 C108.85,300.05 109.88,300.92 110.90,301.80 C111.92,302.68 112.95,303.48 114.10,304.30 C115.25,305.12 116.33,305.78 117.80,306.70 C119.27,307.62 121.18,308.85 122.90,309.80 C124.62,310.75 126.32,311.53 128.10,312.40 C129.88,313.27 131.43,313.98 133.60,315.00 C135.77,316.02 138.52,317.13 141.10,318.50 C143.68,319.87 146.35,321.62 149.10,323.20 C151.85,324.78 155.35,326.53 157.60,328.00 C159.85,329.47 161.52,330.92 162.60,332.00 C163.68,333.08 164.68,333.25 164.10,334.50 C163.52,335.75 161.68,337.40 159.10,339.50 C156.52,341.60 152.18,344.57 148.60,347.10 C145.02,349.63 141.02,352.33 137.60,354.70 C134.18,357.07 130.85,359.25 128.10,361.30 C125.35,363.35 122.93,365.10 121.10,367.00 C119.27,368.90 118.02,370.65 117.10,372.70 C116.18,374.75 116.10,376.93 115.60,379.30 C115.10,381.67 114.80,384.37 114.10,386.90 C113.40,389.43 112.52,391.97 111.40,394.50 C110.28,397.03 108.45,399.88 107.40,402.10 C106.35,404.32 105.60,406.37 105.10,407.80 C104.60,409.23 104.90,410.70 104.40,410.70 C103.90,410.70 102.87,409.23 102.10,407.80 C101.33,406.37 100.85,404.32 99.80,402.10 C98.75,399.88 96.92,397.03 95.80,394.50 C94.68,391.97 93.80,389.43 93.10,386.90 C92.40,384.37 92.10,381.67 91.60,379.30 C91.10,376.93 91.02,374.75 90.10,372.70 C89.18,370.65 87.93,368.90 86.10,367.00 C84.27,365.10 81.85,363.35 79.10,361.30 C76.35,359.25 73.02,357.07 69.60,354.70 C66.18,352.33 62.18,349.63 58.60,347.10 C55.02,344.57 50.68,341.60 48.10,339.50 C45.52,337.40 43.68,335.75 43.10,334.50 C42.52,333.25 43.52,333.08 44.60,332.00 C45.68,330.92 47.35,329.47 49.60,328.00 C51.85,326.53 55.35,324.78 58.10,323.20 C60.85,321.62 63.52,319.87 66.10,318.50 C68.68,317.13 71.43,316.02 73.60,315.00 C75.77,313.98 77.32,313.27 79.10,312.40 C80.88,311.53 82.58,310.75 84.30,309.80 C86.02,308.85 87.93,307.62 89.40,306.70 C90.87,305.78 91.95,305.12 93.10,304.30 C94.25,303.48 95.28,302.68 96.30,301.80 C97.32,300.92 97.62,300.05 99.20,299.00 C100.78,297.95 104.33,295.50 105.80,295.50 Z" fill="#dde7ef" fill-opacity="0.5" stroke="#8c8c8c" stroke-width="0.6"/>
<path d="M256.10,270.70 C257.23,270.70 257.13,275.18 258.30,277.40 C259.47,279.62 261.20,281.95 263.10,284.00 C265.00,286.05 267.97,287.95 269.70,289.70 C271.43,291.45 272.55,292.75 273.50,294.50 C274.45,296.25 274.83,298.15 275.40,300.20 C275.97,302.25 275.95,304.75 276.90,306.80 C277.85,308.85 278.82,310.60 281.10,312.50 C283.38,314.40 286.80,316.15 290.60,318.20 C294.40,320.25 300.12,322.75 303.90,324.80 C307.68,326.85 311.35,328.98 313.30,330.50 C315.25,332.02 315.92,332.47 315.60,333.90 C315.28,335.33 313.98,336.98 311.40,339.10 C308.82,341.22 304.20,343.92 300.10,346.60 C296.00,349.28 290.92,352.50 286.80,355.20 C282.68,357.90 278.88,360.12 275.40,362.80 C271.92,365.48 268.43,368.77 265.90,371.30 C263.37,373.83 261.73,375.78 260.20,378.00 C258.67,380.22 257.45,383.03 256.70,384.60 C255.95,386.17 256.30,387.40 255.70,387.40 C255.10,387.40 254.12,386.17 253.10,384.60 C252.08,383.03 251.13,380.22 249.60,378.00 C248.07,375.78 246.43,373.83 243.90,371.30 C241.37,368.77 237.88,365.48 234.40,362.80 C230.92,360.12 227.12,357.90 223.00,355.20 C218.88,352.50 213.80,349.28 209.70,346.60 C205.60,343.92 200.98,341.22 198.40,339.10 C195.82,336.98 194.52,335.33 194.20,333.90 C193.88,332.47 194.55,332.02 196.50,330.50 C198.45,328.98 202.12,326.85 205.90,324.80 C209.68,322.75 215.40,320.25 219.20,318.20 C223.00,316.15 226.42,314.40 228.70,312.50 C230.98,310.60 231.95,308.85 232.90,306.80 C233.85,304.75 233.83,302.25 234.40,300.20 C234.97,298.15 235.35,296.25 236.30,294.50 C237.25,292.75 238.37,291.45 240.10,289.70 C241.83,287.95 244.80,286.05 246.70,284.00 C248.60,281.95 249.93,279.62 251.50,277.40 C253.07,275.18 254.97,270.70 256.10,270.70 Z" fill="#4985af" fill-opacity="0.5" stroke="#6e7f8c" stroke-width="0.6"/>
<line x1="103.6" y1="316.4" x2="103.6" y2="383.0" stroke="#858585" stroke-width="0.85"/>
<line x1="96.00" y1="316.4" x2="111.20" y2="316.4" stroke="#858585" stroke-width="0.85"/>
<line x1="96.00" y1="383.0" x2="111.20" y2="383.0" stroke="#858585" stroke-width="0.85"/>
<rect x="88.50" y="332.6" width="30.2" height="20.50" fill="#deebf4" stroke="#7d7d7d" stroke-width="0.8"/>
<line x1="88.50" y1="335.1" x2="118.70" y2="335.1" stroke="#7d7d7d" stroke-width="0.8"/>
<line x1="254.9" y1="301.7" x2="254.9" y2="366.4" stroke="#7b8c9c" stroke-width="0.85"/>
<line x1="247.30" y1="301.7" x2="262.50" y2="301.7" stroke="#7b8c9c" stroke-width="0.85"/>
<line x1="247.30" y1="366.4" x2="262.50" y2="366.4" stroke="#7b8c9c" stroke-width="0.85"/>
<rect x="239.80" y="327.4" width="30.2" height="17.10" fill="#4d8bc1" stroke="#3d5566" stroke-width="0.8"/>
<line x1="239.80" y1="330.5" x2="270.00" y2="330.5" stroke="#3d5566" stroke-width="0.8"/>
<g stroke="#3f76b8" stroke-opacity="0.5" stroke-width="0.6">
<line x1="103.6" y1="316.9" x2="254.9" y2="291.9"/>
<line x1="103.6" y1="316.9" x2="254.9" y2="301.7"/>
<line x1="103.6" y1="318.5" x2="254.9" y2="333.3"/>
<line x1="103.6" y1="320.4" x2="254.9" y2="291.9"/>
<line x1="103.6" y1="322.7" x2="254.9" y2="301.7"/>
<line x1="103.6" y1="328.1" x2="254.9" y2="327.9"/>
<line x1="103.6" y1="332.8" x2="254.9" y2="329.3"/>
<line x1="103.6" y1="334.4" x2="254.9" y2="297.5"/>
<line x1="103.6" y1="335.6" x2="254.9" y2="333.3"/>
<line x1="103.6" y1="336.1" x2="254.9" y2="323.9"/>
<line x1="103.6" y1="336.1" x2="254.9" y2="344.9"/>
<line x1="103.6" y1="343.3" x2="254.9" y2="307.1"/>
<line x1="103.6" y1="346.6" x2="254.9" y2="327.9"/>
<line x1="103.6" y1="353.1" x2="254.9" y2="344.9"/>
<line x1="103.6" y1="357.8" x2="254.9" y2="330.9"/>
<line x1="103.6" y1="360.1" x2="254.9" y2="343.8"/>
<line x1="103.6" y1="362.9" x2="254.9" y2="341.9"/>
<line x1="103.6" y1="383" x2="254.9" y2="357.3"/>
<line x1="103.6" y1="389.1" x2="254.9" y2="366.4"/>
</g>
<g fill="#3366aa">
<circle cx="103.6" cy="316.9" r="1.35"/>
<circle cx="103.6" cy="318.5" r="1.35"/>
<circle cx="103.6" cy="320.4" r="1.35"/>
<circle cx="103.6" cy="322.7" r="1.35"/>
<circle cx="103.6" cy="328.1" r="1.35"/>
<circle cx="103.6" cy="332.8" r="1.35"/>
<circle cx="103.6" cy="334.4" r="1.35"/>
<circle cx="103.6" cy="335.6" r="1.35"/>
<circle cx="103.6" cy="336.1" r="1.35"/>
<circle cx="103.6" cy="343.3" r="1.35"/>
<circle cx="103.6" cy="346.6" r="1.35"/>
<circle cx="103.6" cy="353.1" r="1.35"/>
<circle cx="103.6" cy="357.8" r="1.35"/>
<circle cx="103.6" cy="360.1" r="1.35"/>
<circle cx="103.6" cy="362.9" r="1.35"/>
<circle cx="103.6" cy="383" r="1.35"/>
<circle cx="103.6" cy="389.1" r="1.35"/>
<circle cx="254.9" cy="291.9" r="1.35"/>
<circle cx="254.9" cy="297.5" r="1.35"/>
<circle cx="254.9" cy="301.7" r="1.35"/>
<circle cx="254.9" cy="307.1" r="1.35"/>
<circle cx="254.9" cy="323.9" r="1.35"/>
<circle cx="254.9" cy="327.9" r="1.35"/>
<circle cx="254.9" cy="329.3" r="1.35"/>
<circle cx="254.9" cy="330.9" r="1.35"/>
<circle cx="254.9" cy="333.3" r="1.35"/>
<circle cx="254.9" cy="341.9" r="1.35"/>
<circle cx="254.9" cy="343.8" r="1.35"/>
<circle cx="254.9" cy="344.9" r="1.35"/>
<circle cx="254.9" cy="357.3" r="1.35"/>
<circle cx="254.9" cy="366.4" r="1.35"/>
</g>
<text x="44.60" y="279.00" font-size="9.0" text-anchor="start" fill="#1a1a1a" font-weight="bold">p (LMM, FDR) = 0.04</text>
<text x="3.50" y="250.90" font-size="22" text-anchor="start" fill="#000" font-weight="bold">f</text>
<rect x="383.5" y="264.1" width="299.80" height="153.40" fill="#ffffff" stroke="#dedede" stroke-width="0.9"/>
<line x1="383.5" y1="290.9" x2="683.3" y2="290.9" stroke="#e8e8e8" stroke-width="0.9"/>
<line x1="383.5" y1="338.4" x2="683.3" y2="338.4" stroke="#e8e8e8" stroke-width="0.9"/>
<line x1="383.5" y1="385.4" x2="683.3" y2="385.4" stroke="#e8e8e8" stroke-width="0.9"/>
<text x="380.40" y="293.60" font-size="7.5" text-anchor="end" fill="#333">3</text>
<text x="380.40" y="341.10" font-size="7.5" text-anchor="end" fill="#333">2</text>
<text x="380.40" y="388.10" font-size="7.5" text-anchor="end" fill="#333">1</text>
<text x="372.80" y="340.80" font-size="7.9" text-anchor="middle" fill="#333" transform="rotate(-90 372.79999999999995 340.8)">Frequency (Hz)</text>
<text x="533.40" y="261.50" font-size="8.3" text-anchor="middle" fill="#222">Hand Opening: Frequency</text>
<text x="457.60" y="426.10" font-size="7.2" text-anchor="middle" fill="#333">Full</text>
<text x="608.90" y="426.10" font-size="7.2" text-anchor="middle" fill="#333">Half</text>
<text x="533.40" y="434.40" font-size="7.7" text-anchor="middle" fill="#333">Stimulation</text>
<path d="M458.60,295.50 C459.47,295.50 459.45,299.77 460.20,301.80 C460.95,303.83 461.80,305.88 463.10,307.70 C464.40,309.52 465.53,310.88 468.00,312.70 C470.47,314.52 473.95,316.47 477.90,318.60 C481.85,320.73 486.77,323.03 491.70,325.50 C496.63,327.97 503.23,330.93 507.50,333.40 C511.77,335.87 515.83,338.50 517.30,340.30 C518.77,342.10 518.27,342.40 516.30,344.20 C514.33,346.00 509.93,348.63 505.50,351.10 C501.07,353.57 494.95,356.53 489.70,359.00 C484.45,361.47 477.93,363.93 474.00,365.90 C470.07,367.87 467.75,369.00 466.10,370.80 C464.45,372.60 464.50,374.73 464.10,376.70 C463.70,378.67 464.03,380.63 463.70,382.60 C463.37,384.57 462.82,386.20 462.10,388.50 C461.38,390.80 460.02,394.42 459.40,396.40 C458.78,398.38 459.00,400.40 458.40,400.40 C457.80,400.40 456.68,398.38 455.80,396.40 C454.92,394.42 453.82,390.80 453.10,388.50 C452.38,386.20 451.83,384.57 451.50,382.60 C451.17,380.63 451.50,378.67 451.10,376.70 C450.70,374.73 450.75,372.60 449.10,370.80 C447.45,369.00 445.13,367.87 441.20,365.90 C437.27,363.93 430.75,361.47 425.50,359.00 C420.25,356.53 414.13,353.57 409.70,351.10 C405.27,348.63 400.87,346.00 398.90,344.20 C396.93,342.40 396.43,342.10 397.90,340.30 C399.37,338.50 403.43,335.87 407.70,333.40 C411.97,330.93 418.57,327.97 423.50,325.50 C428.43,323.03 433.35,320.73 437.30,318.60 C441.25,316.47 444.73,314.52 447.20,312.70 C449.67,310.88 450.80,309.52 452.10,307.70 C453.40,305.88 453.92,303.83 455.00,301.80 C456.08,299.77 457.73,295.50 458.60,295.50 Z" fill="#dde7ef" fill-opacity="0.5" stroke="#8c8c8c" stroke-width="0.6"/>
<path d="M609.90,271.10 C610.80,271.10 610.65,275.15 611.60,277.20 C612.55,279.25 613.90,281.52 615.60,283.40 C617.30,285.28 619.42,286.63 621.80,288.50 C624.18,290.37 626.50,292.22 629.90,294.60 C633.30,296.98 638.10,299.90 642.20,302.80 C646.30,305.70 650.75,308.93 654.50,312.00 C658.25,315.07 662.25,318.13 664.70,321.20 C667.15,324.27 669.03,327.50 669.20,330.40 C669.37,333.30 668.15,335.88 665.70,338.60 C663.25,341.32 659.10,343.98 654.50,346.70 C649.90,349.42 643.20,352.33 638.10,354.90 C633.00,357.47 627.30,360.05 623.90,362.10 C620.50,364.15 619.08,365.17 617.70,367.20 C616.32,369.23 615.87,371.75 615.60,374.30 C615.33,376.85 616.17,379.77 616.10,382.50 C616.03,385.23 615.78,387.63 615.20,390.70 C614.62,393.77 613.35,398.18 612.60,400.90 C611.85,403.62 611.18,405.37 610.70,407.00 C610.22,408.63 610.30,410.70 609.70,410.70 C609.10,410.70 607.85,408.63 607.10,407.00 C606.35,405.37 605.95,403.62 605.20,400.90 C604.45,398.18 603.18,393.77 602.60,390.70 C602.02,387.63 601.77,385.23 601.70,382.50 C601.63,379.77 602.47,376.85 602.20,374.30 C601.93,371.75 601.48,369.23 600.10,367.20 C598.72,365.17 597.30,364.15 593.90,362.10 C590.50,360.05 584.80,357.47 579.70,354.90 C574.60,352.33 567.90,349.42 563.30,346.70 C558.70,343.98 554.55,341.32 552.10,338.60 C549.65,335.88 548.43,333.30 548.60,330.40 C548.77,327.50 550.65,324.27 553.10,321.20 C555.55,318.13 559.55,315.07 563.30,312.00 C567.05,308.93 571.50,305.70 575.60,302.80 C579.70,299.90 584.50,296.98 587.90,294.60 C591.30,292.22 593.62,290.37 596.00,288.50 C598.38,286.63 600.50,285.28 602.20,283.40 C603.90,281.52 604.92,279.25 606.20,277.20 C607.48,275.15 609.00,271.10 609.90,271.10 Z" fill="#4985af" fill-opacity="0.5" stroke="#6e7f8c" stroke-width="0.6"/>
<line x1="457.6" y1="313.6" x2="457.6" y2="361.5" stroke="#858585" stroke-width="0.85"/>
<line x1="450.00" y1="313.6" x2="465.20" y2="313.6" stroke="#858585" stroke-width="0.85"/>
<line x1="450.00" y1="361.5" x2="465.20" y2="361.5" stroke="#858585" stroke-width="0.85"/>
<rect x="442.50" y="333.4" width="30.2" height="15.90" fill="#deebf4" stroke="#7d7d7d" stroke-width="0.8"/>
<line x1="442.50" y1="342.3" x2="472.70" y2="342.3" stroke="#7d7d7d" stroke-width="0.8"/>
<line x1="608.9" y1="295.1" x2="608.9" y2="355.9" stroke="#7b8c9c" stroke-width="0.85"/>
<line x1="601.30" y1="295.1" x2="616.50" y2="295.1" stroke="#7b8c9c" stroke-width="0.85"/>
<line x1="601.30" y1="355.9" x2="616.50" y2="355.9" stroke="#7b8c9c" stroke-width="0.85"/>
<rect x="593.80" y="316.2" width="30.2" height="22.60" fill="#4d8bc1" stroke="#3d5566" stroke-width="0.8"/>
<line x1="593.80" y1="330.4" x2="624.00" y2="330.4" stroke="#3d5566" stroke-width="0.8"/>
<g stroke="#3f76b8" stroke-opacity="0.5" stroke-width="0.6">
<line x1="457.6" y1="313.6" x2="608.9" y2="295.1"/>
<line x1="457.6" y1="313.6" x2="608.9" y2="333.4"/>
<line x1="457.6" y1="326.9" x2="608.9" y2="305.9"/>
<line x1="457.6" y1="326.9" x2="608.9" y2="295.1"/>
<line x1="457.6" y1="329.9" x2="608.9" y2="327.6"/>
<line x1="457.6" y1="331.6" x2="608.9" y2="335.3"/>
<line x1="457.6" y1="331.6" x2="608.9" y2="305.9"/>
<line x1="457.6" y1="336.9" x2="608.9" y2="321.8"/>
<line x1="457.6" y1="340.4" x2="608.9" y2="345.1"/>
<line x1="457.6" y1="340.4" x2="608.9" y2="340"/>
<line x1="457.6" y1="342.8" x2="608.9" y2="333.4"/>
<line x1="457.6" y1="342.8" x2="608.9" y2="327.6"/>
<line x1="457.6" y1="345.1" x2="608.9" y2="345.1"/>
<line x1="457.6" y1="348.6" x2="608.9" y2="312.9"/>
<line x1="457.6" y1="348.6" x2="608.9" y2="312.9"/>
<line x1="457.6" y1="349.8" x2="608.9" y2="335.3"/>
<line x1="457.6" y1="361.5" x2="608.9" y2="355.9"/>
<line x1="457.6" y1="361.5" x2="608.9" y2="355.9"/>
<line x1="457.6" y1="383.2" x2="608.9" y2="386.7"/>
</g>
<g fill="#3366aa">
<circle cx="457.6" cy="313.6" r="1.35"/>
<circle cx="457.6" cy="326.9" r="1.35"/>
<circle cx="457.6" cy="329.9" r="1.35"/>
<circle cx="457.6" cy="331.6" r="1.35"/>
<circle cx="457.6" cy="336.9" r="1.35"/>
<circle cx="457.6" cy="340.4" r="1.35"/>
<circle cx="457.6" cy="342.8" r="1.35"/>
<circle cx="457.6" cy="345.1" r="1.35"/>
<circle cx="457.6" cy="348.6" r="1.35"/>
<circle cx="457.6" cy="349.8" r="1.35"/>
<circle cx="457.6" cy="361.5" r="1.35"/>
<circle cx="457.6" cy="383.2" r="1.35"/>
<circle cx="608.9" cy="295.1" r="1.35"/>
<circle cx="608.9" cy="305.9" r="1.35"/>
<circle cx="608.9" cy="312.9" r="1.35"/>
<circle cx="608.9" cy="321.8" r="1.35"/>
<circle cx="608.9" cy="327.6" r="1.35"/>
<circle cx="608.9" cy="333.4" r="1.35"/>
<circle cx="608.9" cy="335.3" r="1.35"/>
<circle cx="608.9" cy="340" r="1.35"/>
<circle cx="608.9" cy="345.1" r="1.35"/>
<circle cx="608.9" cy="355.9" r="1.35"/>
<circle cx="608.9" cy="386.7" r="1.35"/>
</g>
<text x="398.30" y="278.60" font-size="9.0" text-anchor="start" fill="#1a1a1a" font-weight="bold">p (LMM, FDR) = 0.05</text>
<text x="352.20" y="247.60" font-size="22" text-anchor="start" fill="#000" font-weight="bold">g</text>
<rect x="30.2" y="463.6" width="299.30" height="153.50" fill="#ffffff" stroke="#dedede" stroke-width="0.9"/>
<line x1="30.2" y1="469.4" x2="329.5" y2="469.4" stroke="#e8e8e8" stroke-width="0.9"/>
<line x1="30.2" y1="492.5" x2="329.5" y2="492.5" stroke="#e8e8e8" stroke-width="0.9"/>
<line x1="30.2" y1="515.7" x2="329.5" y2="515.7" stroke="#e8e8e8" stroke-width="0.9"/>
<line x1="30.2" y1="538.5" x2="329.5" y2="538.5" stroke="#e8e8e8" stroke-width="0.9"/>
<line x1="30.2" y1="561.9" x2="329.5" y2="561.9" stroke="#e8e8e8" stroke-width="0.9"/>
<line x1="30.2" y1="585" x2="329.5" y2="585" stroke="#e8e8e8" stroke-width="0.9"/>
<line x1="30.2" y1="608.1" x2="329.5" y2="608.1" stroke="#e8e8e8" stroke-width="0.9"/>
<text x="26.30" y="472.10" font-size="7.5" text-anchor="end" fill="#333">6</text>
<text x="26.30" y="495.20" font-size="7.5" text-anchor="end" fill="#333">5</text>
<text x="26.30" y="518.40" font-size="7.5" text-anchor="end" fill="#333">4</text>
<text x="26.30" y="541.20" font-size="7.5" text-anchor="end" fill="#333">3</text>
<text x="26.30" y="564.60" font-size="7.5" text-anchor="end" fill="#333">2</text>
<text x="26.30" y="587.70" font-size="7.5" text-anchor="end" fill="#333">1</text>
<text x="26.30" y="610.80" font-size="7.5" text-anchor="end" fill="#333">0</text>
<text x="19.00" y="540.35" font-size="7.9" text-anchor="middle" fill="#333" transform="rotate(-90 19.0 540.35)">Speed (Units)</text>
<text x="179.85" y="461.00" font-size="8.3" text-anchor="middle" fill="#222">Fingertapping: Speed</text>
<text x="104.00" y="625.70" font-size="7.2" text-anchor="middle" fill="#333">Full</text>
<text x="255.30" y="625.70" font-size="7.2" text-anchor="middle" fill="#333">Half</text>
<text x="179.85" y="634.00" font-size="7.7" text-anchor="middle" fill="#333">Stimulation</text>
<path d="M105.80,470.20 C107.17,470.20 106.82,470.48 108.10,472.60 C109.38,474.72 111.72,479.40 113.50,482.90 C115.28,486.40 116.87,490.03 118.80,493.60 C120.73,497.17 123.17,501.03 125.10,504.30 C127.03,507.57 128.32,510.52 130.40,513.20 C132.48,515.88 134.62,518.02 137.60,520.40 C140.58,522.78 144.73,524.83 148.30,527.50 C151.87,530.17 156.32,533.72 159.00,536.40 C161.68,539.08 164.10,540.92 164.40,543.60 C164.70,546.28 162.88,549.53 160.80,552.50 C158.72,555.47 154.88,558.42 151.90,561.40 C148.92,564.38 145.88,567.42 142.90,570.40 C139.92,573.38 137.27,576.03 134.00,579.30 C130.73,582.57 126.57,586.43 123.30,590.00 C120.03,593.57 117.08,597.77 114.40,600.70 C111.72,603.63 108.68,606.12 107.20,607.60 C105.72,609.08 106.57,609.60 105.50,609.60 C104.43,609.60 102.78,609.08 100.80,607.60 C98.82,606.12 96.28,603.63 93.60,600.70 C90.92,597.77 87.97,593.57 84.70,590.00 C81.43,586.43 77.27,582.57 74.00,579.30 C70.73,576.03 68.08,573.38 65.10,570.40 C62.12,567.42 59.08,564.38 56.10,561.40 C53.12,558.42 49.28,555.47 47.20,552.50 C45.12,549.53 43.30,546.28 43.60,543.60 C43.90,540.92 46.32,539.08 49.00,536.40 C51.68,533.72 56.13,530.17 59.70,527.50 C63.27,524.83 67.42,522.78 70.40,520.40 C73.38,518.02 75.52,515.88 77.60,513.20 C79.68,510.52 80.97,507.57 82.90,504.30 C84.83,501.03 87.27,497.17 89.20,493.60 C91.13,490.03 92.72,486.40 94.50,482.90 C96.28,479.40 98.02,474.72 99.90,472.60 C101.78,470.48 104.43,470.20 105.80,470.20 Z" fill="#dde7ef" fill-opacity="0.5" stroke="#8c8c8c" stroke-width="0.6"/>
<path d="M256.30,479.80 C257.40,479.80 257.37,483.85 258.60,486.30 C259.83,488.75 262.17,491.77 263.70,494.50 C265.23,497.23 266.88,500.13 267.80,502.70 C268.72,505.27 268.70,507.52 269.20,509.90 C269.70,512.28 269.50,514.80 270.80,517.00 C272.10,519.20 273.58,521.05 277.00,523.10 C280.42,525.15 286.20,527.25 291.30,529.30 C296.40,531.35 303.58,533.37 307.60,535.40 C311.62,537.43 315.05,539.45 315.40,541.50 C315.75,543.55 313.38,545.65 309.70,547.70 C306.02,549.75 298.75,551.77 293.30,553.80 C287.85,555.83 281.43,557.85 277.00,559.90 C272.57,561.95 269.08,563.72 266.70,566.10 C264.32,568.48 263.88,571.13 262.70,574.20 C261.52,577.27 260.53,581.43 259.60,584.50 C258.67,587.57 257.68,590.57 257.10,592.60 C256.52,594.63 256.70,596.70 256.10,596.70 C255.50,596.70 254.35,594.63 253.50,592.60 C252.65,590.57 251.93,587.57 251.00,584.50 C250.07,581.43 249.08,577.27 247.90,574.20 C246.72,571.13 246.28,568.48 243.90,566.10 C241.52,563.72 238.03,561.95 233.60,559.90 C229.17,557.85 222.75,555.83 217.30,553.80 C211.85,551.77 204.58,549.75 200.90,547.70 C197.22,545.65 194.85,543.55 195.20,541.50 C195.55,539.45 198.98,537.43 203.00,535.40 C207.02,533.37 214.20,531.35 219.30,529.30 C224.40,527.25 230.18,525.15 233.60,523.10 C237.02,521.05 238.50,519.20 239.80,517.00 C241.10,514.80 240.90,512.28 241.40,509.90 C241.90,507.52 241.88,505.27 242.80,502.70 C243.72,500.13 245.37,497.23 246.90,494.50 C248.43,491.77 250.43,488.75 252.00,486.30 C253.57,483.85 255.20,479.80 256.30,479.80 Z" fill="#4985af" fill-opacity="0.5" stroke="#6e7f8c" stroke-width="0.6"/>
<line x1="104.0" y1="497.5" x2="104.0" y2="582.4" stroke="#858585" stroke-width="0.85"/>
<line x1="96.40" y1="497.5" x2="111.60" y2="497.5" stroke="#858585" stroke-width="0.85"/>
<line x1="96.40" y1="582.4" x2="111.60" y2="582.4" stroke="#858585" stroke-width="0.85"/>
<rect x="88.90" y="535.1" width="30.2" height="28.40" fill="#deebf4" stroke="#7d7d7d" stroke-width="0.8"/>
<line x1="88.90" y1="543.5" x2="119.10" y2="543.5" stroke="#7d7d7d" stroke-width="0.8"/>
<line x1="255.3" y1="512.8" x2="255.3" y2="560.6" stroke="#7b8c9c" stroke-width="0.85"/>
<line x1="247.70" y1="512.8" x2="262.90" y2="512.8" stroke="#7b8c9c" stroke-width="0.85"/>
<line x1="247.70" y1="560.6" x2="262.90" y2="560.6" stroke="#7b8c9c" stroke-width="0.85"/>
<rect x="240.20" y="532.5" width="30.2" height="15.20" fill="#4d8bc1" stroke="#3d5566" stroke-width="0.8"/>
<line x1="240.20" y1="541.1" x2="270.40" y2="541.1" stroke="#3d5566" stroke-width="0.8"/>
<g stroke="#3f76b8" stroke-opacity="0.5" stroke-width="0.6">
<line x1="104.0" y1="497.5" x2="255.3" y2="500.4"/>
<line x1="104.0" y1="497.5" x2="255.3" y2="546.9"/>
<line x1="104.0" y1="502.3" x2="255.3" y2="521.4"/>
<line x1="104.0" y1="514.1" x2="255.3" y2="535.1"/>
<line x1="104.0" y1="516.7" x2="255.3" y2="501.5"/>
<line x1="104.0" y1="533" x2="255.3" y2="521.4"/>
<line x1="104.0" y1="535.1" x2="255.3" y2="540.4"/>
<line x1="104.0" y1="537.7" x2="255.3" y2="546.9"/>
<line x1="104.0" y1="541.7" x2="255.3" y2="500.4"/>
<line x1="104.0" y1="543" x2="255.3" y2="537.7"/>
<line x1="104.0" y1="549.5" x2="255.3" y2="540.4"/>
<line x1="104.0" y1="551.4" x2="255.3" y2="560.6"/>
<line x1="104.0" y1="558" x2="255.3" y2="551.4"/>
<line x1="104.0" y1="563.2" x2="255.3" y2="535.1"/>
<line x1="104.0" y1="567.9" x2="255.3" y2="543.5"/>
<line x1="104.0" y1="577.1" x2="255.3" y2="531.2"/>
<line x1="104.0" y1="580.3" x2="255.3" y2="553"/>
<line x1="104.0" y1="581.9" x2="255.3" y2="553"/>
<line x1="104.0" y1="582.9" x2="255.3" y2="576.6"/>
</g>
<g fill="#3366aa">
<circle cx="104.0" cy="497.5" r="1.35"/>
<circle cx="104.0" cy="502.3" r="1.35"/>
<circle cx="104.0" cy="514.1" r="1.35"/>
<circle cx="104.0" cy="516.7" r="1.35"/>
<circle cx="104.0" cy="533" r="1.35"/>
<circle cx="104.0" cy="535.1" r="1.35"/>
<circle cx="104.0" cy="537.7" r="1.35"/>
<circle cx="104.0" cy="541.7" r="1.35"/>
<circle cx="104.0" cy="543" r="1.35"/>
<circle cx="104.0" cy="549.5" r="1.35"/>
<circle cx="104.0" cy="551.4" r="1.35"/>
<circle cx="104.0" cy="558" r="1.35"/>
<circle cx="104.0" cy="563.2" r="1.35"/>
<circle cx="104.0" cy="567.9" r="1.35"/>
<circle cx="104.0" cy="577.1" r="1.35"/>
<circle cx="104.0" cy="580.3" r="1.35"/>
<circle cx="104.0" cy="581.9" r="1.35"/>
<circle cx="104.0" cy="582.9" r="1.35"/>
<circle cx="255.3" cy="500.4" r="1.35"/>
<circle cx="255.3" cy="501.5" r="1.35"/>
<circle cx="255.3" cy="521.4" r="1.35"/>
<circle cx="255.3" cy="531.2" r="1.35"/>
<circle cx="255.3" cy="535.1" r="1.35"/>
<circle cx="255.3" cy="537.7" r="1.35"/>
<circle cx="255.3" cy="540.4" r="1.35"/>
<circle cx="255.3" cy="543.5" r="1.35"/>
<circle cx="255.3" cy="546.9" r="1.35"/>
<circle cx="255.3" cy="551.4" r="1.35"/>
<circle cx="255.3" cy="553" r="1.35"/>
<circle cx="255.3" cy="560.6" r="1.35"/>
<circle cx="255.3" cy="576.6" r="1.35"/>
</g>
<text x="45.20" y="478.10" font-size="9.0" text-anchor="start" fill="#1a1a1a" font-weight="bold">p (LMM, FDR) = 0.08</text>
<text x="3.90" y="454.30" font-size="22" text-anchor="start" fill="#000" font-weight="bold">h</text>
<rect x="383.4" y="464.7" width="300.30" height="153.40" fill="#ffffff" stroke="#dedede" stroke-width="0.9"/>
<line x1="383.4" y1="467.6" x2="683.7" y2="467.6" stroke="#e8e8e8" stroke-width="0.9"/>
<line x1="383.4" y1="493.6" x2="683.7" y2="493.6" stroke="#e8e8e8" stroke-width="0.9"/>
<line x1="383.4" y1="519.6" x2="683.7" y2="519.6" stroke="#e8e8e8" stroke-width="0.9"/>
<line x1="383.4" y1="545.6" x2="683.7" y2="545.6" stroke="#e8e8e8" stroke-width="0.9"/>
<line x1="383.4" y1="572.1" x2="683.7" y2="572.1" stroke="#e8e8e8" stroke-width="0.9"/>
<line x1="383.4" y1="598.2" x2="683.7" y2="598.2" stroke="#e8e8e8" stroke-width="0.9"/>
<text x="380.30" y="470.30" font-size="7.5" text-anchor="end" fill="#333">6</text>
<text x="380.30" y="496.30" font-size="7.5" text-anchor="end" fill="#333">5</text>
<text x="380.30" y="522.30" font-size="7.5" text-anchor="end" fill="#333">4</text>
<text x="380.30" y="548.30" font-size="7.5" text-anchor="end" fill="#333">3</text>
<text x="380.30" y="574.80" font-size="7.5" text-anchor="end" fill="#333">2</text>
<text x="380.30" y="600.90" font-size="7.5" text-anchor="end" fill="#333">1</text>
<text x="372.40" y="541.40" font-size="7.9" text-anchor="middle" fill="#333" transform="rotate(-90 372.4 541.4)">Speed (Units)</text>
<text x="533.55" y="462.10" font-size="8.3" text-anchor="middle" fill="#222">Hand Opening: Speed</text>
<text x="457.80" y="626.70" font-size="7.2" text-anchor="middle" fill="#333">Full</text>
<text x="609.10" y="626.70" font-size="7.2" text-anchor="middle" fill="#333">Half</text>
<text x="533.55" y="635.00" font-size="7.7" text-anchor="middle" fill="#333">Stimulation</text>
<path d="M458.80,487.50 C459.47,487.50 459.02,491.12 459.80,493.80 C460.58,496.48 462.22,500.32 463.50,503.60 C464.78,506.88 466.52,510.20 467.50,513.50 C468.48,516.80 468.25,520.45 469.40,523.40 C470.55,526.35 471.27,528.58 474.40,531.20 C477.53,533.82 482.95,536.30 488.20,539.10 C493.45,541.90 501.15,545.37 505.90,548.00 C510.65,550.63 514.67,553.10 516.70,554.90 C518.73,556.70 518.58,556.83 518.10,558.80 C517.62,560.77 516.82,563.73 513.80,566.70 C510.78,569.67 505.27,573.32 500.00,576.60 C494.73,579.88 487.47,583.45 482.20,586.40 C476.93,589.35 471.97,591.83 468.40,594.30 C464.83,596.77 462.43,599.40 460.80,601.20 C459.17,603.00 459.60,605.10 458.60,605.10 C457.60,605.10 456.70,603.00 454.80,601.20 C452.90,599.40 450.77,596.77 447.20,594.30 C443.63,591.83 438.67,589.35 433.40,586.40 C428.13,583.45 420.87,579.88 415.60,576.60 C410.33,573.32 404.82,569.67 401.80,566.70 C398.78,563.73 397.98,560.77 397.50,558.80 C397.02,556.83 396.87,556.70 398.90,554.90 C400.93,553.10 404.95,550.63 409.70,548.00 C414.45,545.37 422.15,541.90 427.40,539.10 C432.65,536.30 438.07,533.82 441.20,531.20 C444.33,528.58 445.05,526.35 446.20,523.40 C447.35,520.45 447.12,516.80 448.10,513.50 C449.08,510.20 450.82,506.88 452.10,503.60 C453.38,500.32 454.68,496.48 455.80,493.80 C456.92,491.12 458.13,487.50 458.80,487.50 Z" fill="#dde7ef" fill-opacity="0.5" stroke="#8c8c8c" stroke-width="0.6"/>
<path d="M610.10,471.70 C611.27,471.70 611.50,478.82 612.60,482.30 C613.70,485.78 615.35,489.53 616.70,492.60 C618.05,495.67 619.52,497.98 620.70,500.70 C621.88,503.42 622.60,506.33 623.80,508.90 C625.00,511.47 625.52,513.55 627.90,516.10 C630.28,518.65 634.02,521.32 638.10,524.20 C642.18,527.08 647.97,530.15 652.40,533.40 C656.83,536.65 661.80,540.28 664.70,543.70 C667.60,547.12 669.47,550.83 669.80,553.90 C670.13,556.97 669.25,559.03 666.70,562.10 C664.15,565.17 658.92,569.07 654.50,572.30 C650.08,575.53 644.63,578.43 640.20,581.50 C635.77,584.57 631.32,587.82 627.90,590.70 C624.48,593.58 622.08,596.08 619.70,598.80 C617.32,601.52 615.23,604.88 613.60,607.00 C611.97,609.12 611.40,611.50 609.90,611.50 C608.40,611.50 606.50,609.12 604.60,607.00 C602.70,604.88 600.88,601.52 598.50,598.80 C596.12,596.08 593.72,593.58 590.30,590.70 C586.88,587.82 582.43,584.57 578.00,581.50 C573.57,578.43 568.12,575.53 563.70,572.30 C559.28,569.07 554.05,565.17 551.50,562.10 C548.95,559.03 548.07,556.97 548.40,553.90 C548.73,550.83 550.60,547.12 553.50,543.70 C556.40,540.28 561.37,536.65 565.80,533.40 C570.23,530.15 576.02,527.08 580.10,524.20 C584.18,521.32 587.92,518.65 590.30,516.10 C592.68,513.55 593.20,511.47 594.40,508.90 C595.60,506.33 596.32,503.42 597.50,500.70 C598.68,497.98 600.15,495.67 601.50,492.60 C602.85,489.53 604.17,485.78 605.60,482.30 C607.03,478.82 608.93,471.70 610.10,471.70 Z" fill="#4985af" fill-opacity="0.5" stroke="#6e7f8c" stroke-width="0.6"/>
<line x1="457.8" y1="537.2" x2="457.8" y2="583.7" stroke="#858585" stroke-width="0.85"/>
<line x1="450.20" y1="537.2" x2="465.40" y2="537.2" stroke="#858585" stroke-width="0.85"/>
<line x1="450.20" y1="583.7" x2="465.40" y2="583.7" stroke="#858585" stroke-width="0.85"/>
<rect x="442.70" y="549.5" width="30.2" height="17.90" fill="#deebf4" stroke="#7d7d7d" stroke-width="0.8"/>
<line x1="442.70" y1="557.4" x2="472.90" y2="557.4" stroke="#7d7d7d" stroke-width="0.8"/>
<line x1="609.1" y1="510.7" x2="609.1" y2="586.3" stroke="#7b8c9c" stroke-width="0.85"/>
<line x1="601.50" y1="510.7" x2="616.70" y2="510.7" stroke="#7b8c9c" stroke-width="0.85"/>
<line x1="601.50" y1="586.3" x2="616.70" y2="586.3" stroke="#7b8c9c" stroke-width="0.85"/>
<rect x="594.00" y="538" width="30.2" height="25.50" fill="#4d8bc1" stroke="#3d5566" stroke-width="0.8"/>
<line x1="594.00" y1="553" x2="624.20" y2="553" stroke="#3d5566" stroke-width="0.8"/>
<g stroke="#3f76b8" stroke-opacity="0.5" stroke-width="0.6">
<line x1="457.8" y1="508.3" x2="609.1" y2="497"/>
<line x1="457.8" y1="508.3" x2="609.1" y2="524.6"/>
<line x1="457.8" y1="522" x2="609.1" y2="544.8"/>
<line x1="457.8" y1="537.2" x2="609.1" y2="558.7"/>
<line x1="457.8" y1="537.2" x2="609.1" y2="538.2"/>
<line x1="457.8" y1="547.7" x2="609.1" y2="535.1"/>
<line x1="457.8" y1="549.5" x2="609.1" y2="524.6"/>
<line x1="457.8" y1="549.5" x2="609.1" y2="497"/>
<line x1="457.8" y1="552.2" x2="609.1" y2="577.1"/>
<line x1="457.8" y1="554" x2="609.1" y2="544.8"/>
<line x1="457.8" y1="554" x2="609.1" y2="556.1"/>
<line x1="457.8" y1="560.1" x2="609.1" y2="561.4"/>
<line x1="457.8" y1="564.5" x2="609.1" y2="510.7"/>
<line x1="457.8" y1="564.5" x2="609.1" y2="567.9"/>
<line x1="457.8" y1="569.8" x2="609.1" y2="558.7"/>
<line x1="457.8" y1="575.8" x2="609.1" y2="567.9"/>
<line x1="457.8" y1="575.8" x2="609.1" y2="553.5"/>
<line x1="457.8" y1="580.3" x2="609.1" y2="566.6"/>
<line x1="457.8" y1="583.7" x2="609.1" y2="586.3"/>
</g>
<g fill="#3366aa">
<circle cx="457.8" cy="508.3" r="1.35"/>
<circle cx="457.8" cy="522" r="1.35"/>
<circle cx="457.8" cy="537.2" r="1.35"/>
<circle cx="457.8" cy="547.7" r="1.35"/>
<circle cx="457.8" cy="549.5" r="1.35"/>
<circle cx="457.8" cy="552.2" r="1.35"/>
<circle cx="457.8" cy="554" r="1.35"/>
<circle cx="457.8" cy="560.1" r="1.35"/>
<circle cx="457.8" cy="564.5" r="1.35"/>
<circle cx="457.8" cy="569.8" r="1.35"/>
<circle cx="457.8" cy="575.8" r="1.35"/>
<circle cx="457.8" cy="580.3" r="1.35"/>
<circle cx="457.8" cy="583.7" r="1.35"/>
<circle cx="609.1" cy="497" r="1.35"/>
<circle cx="609.1" cy="510.7" r="1.35"/>
<circle cx="609.1" cy="524.6" r="1.35"/>
<circle cx="609.1" cy="535.1" r="1.35"/>
<circle cx="609.1" cy="538.2" r="1.35"/>
<circle cx="609.1" cy="544.8" r="1.35"/>
<circle cx="609.1" cy="553.5" r="1.35"/>
<circle cx="609.1" cy="556.1" r="1.35"/>
<circle cx="609.1" cy="558.7" r="1.35"/>
<circle cx="609.1" cy="561.4" r="1.35"/>
<circle cx="609.1" cy="566.6" r="1.35"/>
<circle cx="609.1" cy="567.9" r="1.35"/>
<circle cx="609.1" cy="577.1" r="1.35"/>
<circle cx="609.1" cy="586.3" r="1.35"/>
</g>
<text x="398.30" y="479.10" font-size="9.0" text-anchor="start" fill="#1a1a1a" font-weight="bold">p (LMM, FDR) = 0.45</text>
<text x="356.60" y="456.70" font-size="22" text-anchor="start" fill="#000" font-weight="bold">i</text>
<rect x="35.5" y="667.3" width="293.50" height="153.70" fill="#ffffff" stroke="#dedede" stroke-width="0.9"/>
<line x1="35.5" y1="690.4" x2="329.0" y2="690.4" stroke="#e8e8e8" stroke-width="0.9"/>
<line x1="35.5" y1="721.4" x2="329.0" y2="721.4" stroke="#e8e8e8" stroke-width="0.9"/>
<line x1="35.5" y1="752.7" x2="329.0" y2="752.7" stroke="#e8e8e8" stroke-width="0.9"/>
<line x1="35.5" y1="784.2" x2="329.0" y2="784.2" stroke="#e8e8e8" stroke-width="0.9"/>
<line x1="35.5" y1="815.2" x2="329.0" y2="815.2" stroke="#e8e8e8" stroke-width="0.9"/>
<text x="31.80" y="693.10" font-size="7.5" text-anchor="end" fill="#333">2.0</text>
<text x="31.80" y="724.10" font-size="7.5" text-anchor="end" fill="#333">1.5</text>
<text x="31.80" y="755.40" font-size="7.5" text-anchor="end" fill="#333">1.0</text>
<text x="31.80" y="786.90" font-size="7.5" text-anchor="end" fill="#333">0.5</text>
<text x="31.80" y="817.90" font-size="7.5" text-anchor="end" fill="#333">0.0</text>
<text x="19.00" y="744.15" font-size="7.9" text-anchor="middle" fill="#333" transform="rotate(-90 19.0 744.15)">Amplitude (Units)</text>
<text x="182.25" y="664.70" font-size="8.3" text-anchor="middle" fill="#222">Fingertapping: Amplitude</text>
<text x="108.00" y="829.60" font-size="7.2" text-anchor="middle" fill="#333">Full</text>
<text x="256.40" y="829.60" font-size="7.2" text-anchor="middle" fill="#333">Half</text>
<text x="182.25" y="837.90" font-size="7.7" text-anchor="middle" fill="#333">Stimulation</text>
<path d="M108.00,674.20 C108.90,674.20 109.58,676.60 110.70,678.30 C111.82,680.00 113.00,682.18 114.70,684.40 C116.40,686.62 118.17,688.70 120.90,691.60 C123.63,694.50 127.35,698.07 131.10,701.80 C134.85,705.53 139.32,709.92 143.40,714.00 C147.48,718.08 152.20,722.55 155.60,726.30 C159.00,730.05 161.82,733.60 163.80,736.50 C165.78,739.40 167.33,740.97 167.50,743.70 C167.67,746.43 166.78,749.67 164.80,752.90 C162.82,756.13 159.17,759.70 155.60,763.10 C152.03,766.50 147.48,769.90 143.40,773.30 C139.32,776.70 134.85,780.43 131.10,783.50 C127.35,786.57 123.63,788.97 120.90,791.70 C118.17,794.43 116.40,797.17 114.70,799.90 C113.00,802.63 111.82,805.72 110.70,808.10 C109.58,810.48 108.90,814.20 108.00,814.20 C107.10,814.20 106.42,810.48 105.30,808.10 C104.18,805.72 103.00,802.63 101.30,799.90 C99.60,797.17 97.83,794.43 95.10,791.70 C92.37,788.97 88.65,786.57 84.90,783.50 C81.15,780.43 76.68,776.70 72.60,773.30 C68.52,769.90 63.97,766.50 60.40,763.10 C56.83,759.70 53.18,756.13 51.20,752.90 C49.22,749.67 48.33,746.43 48.50,743.70 C48.67,740.97 50.22,739.40 52.20,736.50 C54.18,733.60 57.00,730.05 60.40,726.30 C63.80,722.55 68.52,718.08 72.60,714.00 C76.68,709.92 81.15,705.53 84.90,701.80 C88.65,698.07 92.37,694.50 95.10,691.60 C97.83,688.70 99.60,686.62 101.30,684.40 C103.00,682.18 104.18,680.00 105.30,678.30 C106.42,676.60 107.10,674.20 108.00,674.20 Z" fill="#dde7ef" fill-opacity="0.5" stroke="#8c8c8c" stroke-width="0.6"/>
<path d="M257.40,686.60 C258.17,686.60 258.08,690.92 258.70,693.30 C259.32,695.68 260.38,698.37 261.10,700.90 C261.82,703.43 262.20,706.28 263.00,708.50 C263.80,710.72 264.15,712.47 265.90,714.20 C267.65,715.93 269.70,717.02 273.50,718.90 C277.30,720.78 283.65,723.28 288.70,725.50 C293.75,727.72 299.53,730.13 303.80,732.20 C308.07,734.27 312.33,736.42 314.30,737.90 C316.27,739.38 316.08,739.83 315.60,741.10 C315.12,742.37 314.00,743.67 311.40,745.50 C308.80,747.33 304.42,749.73 300.00,752.10 C295.58,754.47 289.63,757.17 284.90,759.70 C280.17,762.23 275.08,764.77 271.60,767.30 C268.12,769.83 266.07,772.68 264.00,774.90 C261.93,777.12 260.33,778.87 259.20,780.60 C258.07,782.33 258.13,785.30 257.20,785.30 C256.27,785.30 255.00,782.33 253.60,780.60 C252.20,778.87 250.87,777.12 248.80,774.90 C246.73,772.68 244.68,769.83 241.20,767.30 C237.72,764.77 232.63,762.23 227.90,759.70 C223.17,757.17 217.22,754.47 212.80,752.10 C208.38,749.73 204.00,747.33 201.40,745.50 C198.80,743.67 197.68,742.37 197.20,741.10 C196.72,739.83 196.53,739.38 198.50,737.90 C200.47,736.42 204.73,734.27 209.00,732.20 C213.27,730.13 219.05,727.72 224.10,725.50 C229.15,723.28 235.50,720.78 239.30,718.90 C243.10,717.02 245.15,715.93 246.90,714.20 C248.65,712.47 249.00,710.72 249.80,708.50 C250.60,706.28 250.98,703.43 251.70,700.90 C252.42,698.37 253.15,695.68 254.10,693.30 C255.05,690.92 256.63,686.60 257.40,686.60 Z" fill="#4985af" fill-opacity="0.5" stroke="#6e7f8c" stroke-width="0.6"/>
<line x1="108.0" y1="700.2" x2="108.0" y2="788.2" stroke="#858585" stroke-width="0.85"/>
<line x1="100.40" y1="700.2" x2="115.60" y2="700.2" stroke="#858585" stroke-width="0.85"/>
<line x1="100.40" y1="788.2" x2="115.60" y2="788.2" stroke="#858585" stroke-width="0.85"/>
<rect x="92.90" y="727.2" width="30.2" height="32.30" fill="#deebf4" stroke="#7d7d7d" stroke-width="0.8"/>
<line x1="92.90" y1="743.5" x2="123.10" y2="743.5" stroke="#7d7d7d" stroke-width="0.8"/>
<line x1="256.4" y1="719.9" x2="256.4" y2="769.3" stroke="#7b8c9c" stroke-width="0.85"/>
<line x1="248.80" y1="719.9" x2="264.00" y2="719.9" stroke="#7b8c9c" stroke-width="0.85"/>
<line x1="248.80" y1="769.3" x2="264.00" y2="769.3" stroke="#7b8c9c" stroke-width="0.85"/>
<rect x="241.30" y="734.3" width="30.2" height="14.20" fill="#4d8bc1" stroke="#3d5566" stroke-width="0.8"/>
<line x1="241.30" y1="741.9" x2="271.50" y2="741.9" stroke="#3d5566" stroke-width="0.8"/>
<g stroke="#3f76b8" stroke-opacity="0.5" stroke-width="0.6">
<line x1="108.0" y1="700.2" x2="256.4" y2="703"/>
<line x1="108.0" y1="700.2" x2="256.4" y2="736.4"/>
<line x1="108.0" y1="713" x2="256.4" y2="703"/>
<line x1="108.0" y1="727.2" x2="256.4" y2="738.2"/>
<line x1="108.0" y1="730.4" x2="256.4" y2="719.9"/>
<line x1="108.0" y1="732.5" x2="256.4" y2="727.7"/>
<line x1="108.0" y1="735.1" x2="256.4" y2="727.7"/>
<line x1="108.0" y1="735.1" x2="256.4" y2="746.1"/>
<line x1="108.0" y1="736.4" x2="256.4" y2="733.8"/>
<line x1="108.0" y1="741.7" x2="256.4" y2="741.7"/>
<line x1="108.0" y1="743.5" x2="256.4" y2="758.2"/>
<line x1="108.0" y1="745.6" x2="256.4" y2="746.1"/>
<line x1="108.0" y1="749.5" x2="256.4" y2="761.4"/>
<line x1="108.0" y1="749.5" x2="256.4" y2="758.2"/>
<line x1="108.0" y1="753.5" x2="256.4" y2="743.5"/>
<line x1="108.0" y1="759.5" x2="256.4" y2="753"/>
<line x1="108.0" y1="767.2" x2="256.4" y2="738.2"/>
<line x1="108.0" y1="770.6" x2="256.4" y2="755.6"/>
<line x1="108.0" y1="788.2" x2="256.4" y2="769.3"/>
</g>
<g fill="#3366aa">
<circle cx="108.0" cy="700.2" r="1.35"/>
<circle cx="108.0" cy="713" r="1.35"/>
<circle cx="108.0" cy="727.2" r="1.35"/>
<circle cx="108.0" cy="730.4" r="1.35"/>
<circle cx="108.0" cy="732.5" r="1.35"/>
<circle cx="108.0" cy="735.1" r="1.35"/>
<circle cx="108.0" cy="736.4" r="1.35"/>
<circle cx="108.0" cy="741.7" r="1.35"/>
<circle cx="108.0" cy="743.5" r="1.35"/>
<circle cx="108.0" cy="745.6" r="1.35"/>
<circle cx="108.0" cy="749.5" r="1.35"/>
<circle cx="108.0" cy="753.5" r="1.35"/>
<circle cx="108.0" cy="759.5" r="1.35"/>
<circle cx="108.0" cy="767.2" r="1.35"/>
<circle cx="108.0" cy="770.6" r="1.35"/>
<circle cx="108.0" cy="788.2" r="1.35"/>
<circle cx="256.4" cy="703" r="1.35"/>
<circle cx="256.4" cy="719.9" r="1.35"/>
<circle cx="256.4" cy="727.7" r="1.35"/>
<circle cx="256.4" cy="733.8" r="1.35"/>
<circle cx="256.4" cy="736.4" r="1.35"/>
<circle cx="256.4" cy="738.2" r="1.35"/>
<circle cx="256.4" cy="741.7" r="1.35"/>
<circle cx="256.4" cy="743.5" r="1.35"/>
<circle cx="256.4" cy="746.1" r="1.35"/>
<circle cx="256.4" cy="753" r="1.35"/>
<circle cx="256.4" cy="755.6" r="1.35"/>
<circle cx="256.4" cy="758.2" r="1.35"/>
<circle cx="256.4" cy="761.4" r="1.35"/>
<circle cx="256.4" cy="769.3" r="1.35"/>
</g>
<text x="49.90" y="681.80" font-size="9.0" text-anchor="start" fill="#1a1a1a" font-weight="bold">p (LMM, FDR) = 0.90</text>
<text x="4.00" y="655.60" font-size="22" text-anchor="start" fill="#000" font-weight="bold">j</text>
<rect x="391.8" y="667.6" width="292.70" height="154.70" fill="#ffffff" stroke="#dedede" stroke-width="0.9"/>
<line x1="391.8" y1="682.5" x2="684.5" y2="682.5" stroke="#e8e8e8" stroke-width="0.9"/>
<line x1="391.8" y1="700.2" x2="684.5" y2="700.2" stroke="#e8e8e8" stroke-width="0.9"/>
<line x1="391.8" y1="717.5" x2="684.5" y2="717.5" stroke="#e8e8e8" stroke-width="0.9"/>
<line x1="391.8" y1="735.1" x2="684.5" y2="735.1" stroke="#e8e8e8" stroke-width="0.9"/>
<line x1="391.8" y1="752.7" x2="684.5" y2="752.7" stroke="#e8e8e8" stroke-width="0.9"/>
<line x1="391.8" y1="770.6" x2="684.5" y2="770.6" stroke="#e8e8e8" stroke-width="0.9"/>
<line x1="391.8" y1="788.2" x2="684.5" y2="788.2" stroke="#e8e8e8" stroke-width="0.9"/>
<line x1="391.8" y1="805.5" x2="684.5" y2="805.5" stroke="#e8e8e8" stroke-width="0.9"/>
<text x="388.40" y="685.20" font-size="7.5" text-anchor="end" fill="#333">2.25</text>
<text x="388.40" y="702.90" font-size="7.5" text-anchor="end" fill="#333">2.00</text>
<text x="388.40" y="720.20" font-size="7.5" text-anchor="end" fill="#333">1.75</text>
<text x="388.40" y="737.80" font-size="7.5" text-anchor="end" fill="#333">1.50</text>
<text x="388.40" y="755.40" font-size="7.5" text-anchor="end" fill="#333">1.25</text>
<text x="388.40" y="773.30" font-size="7.5" text-anchor="end" fill="#333">1.00</text>
<text x="388.40" y="790.90" font-size="7.5" text-anchor="end" fill="#333">0.75</text>
<text x="388.40" y="808.20" font-size="7.5" text-anchor="end" fill="#333">0.50</text>
<text x="371.00" y="744.95" font-size="7.9" text-anchor="middle" fill="#333" transform="rotate(-90 371.0 744.95)">Amplitude (Units)</text>
<text x="538.15" y="665.00" font-size="8.3" text-anchor="middle" fill="#222">Hand Opening: Amplitude</text>
<text x="464.20" y="830.90" font-size="7.2" text-anchor="middle" fill="#333">Full</text>
<text x="611.80" y="830.90" font-size="7.2" text-anchor="middle" fill="#333">Half</text>
<text x="538.15" y="839.20" font-size="7.7" text-anchor="middle" fill="#333">Stimulation</text>
<path d="M465.20,675.90 C466.13,675.90 465.98,680.85 467.00,683.80 C468.02,686.75 469.60,690.32 471.30,693.60 C473.00,696.88 474.73,699.88 477.20,703.50 C479.67,707.12 482.82,711.37 486.10,715.30 C489.38,719.23 493.13,723.15 496.90,727.10 C500.67,731.05 505.08,735.38 508.70,739.00 C512.32,742.62 516.23,745.68 518.60,748.80 C520.97,751.92 522.57,755.23 522.90,757.70 C523.23,760.17 522.63,761.13 520.60,763.60 C518.57,766.07 514.98,769.38 510.70,772.50 C506.42,775.62 499.83,779.35 494.90,782.30 C489.97,785.25 485.03,787.40 481.10,790.20 C477.17,793.00 473.72,796.15 471.30,799.10 C468.88,802.05 467.65,805.28 466.60,807.90 C465.55,810.52 465.80,814.80 465.00,814.80 C464.20,814.80 463.12,810.52 461.80,807.90 C460.48,805.28 459.52,802.05 457.10,799.10 C454.68,796.15 451.23,793.00 447.30,790.20 C443.37,787.40 438.43,785.25 433.50,782.30 C428.57,779.35 421.98,775.62 417.70,772.50 C413.42,769.38 409.83,766.07 407.80,763.60 C405.77,761.13 405.17,760.17 405.50,757.70 C405.83,755.23 407.43,751.92 409.80,748.80 C412.17,745.68 416.08,742.62 419.70,739.00 C423.32,735.38 427.73,731.05 431.50,727.10 C435.27,723.15 439.02,719.23 442.30,715.30 C445.58,711.37 448.73,707.12 451.20,703.50 C453.67,699.88 455.40,696.88 457.10,693.60 C458.80,690.32 460.05,686.75 461.40,683.80 C462.75,680.85 464.27,675.90 465.20,675.90 Z" fill="#dde7ef" fill-opacity="0.5" stroke="#8c8c8c" stroke-width="0.6"/>
<path d="M612.80,684.60 C613.70,684.60 613.37,687.32 614.50,689.30 C615.63,691.28 617.57,694.12 619.60,696.50 C621.63,698.88 623.82,701.05 626.70,703.60 C629.58,706.15 633.15,708.73 636.90,711.80 C640.65,714.87 645.45,718.60 649.20,722.00 C652.95,725.40 656.33,728.80 659.40,732.20 C662.47,735.60 665.72,738.82 667.60,742.40 C669.48,745.98 670.53,750.28 670.70,753.70 C670.87,757.12 670.48,759.67 668.60,762.90 C666.72,766.13 663.32,769.70 659.40,773.10 C655.48,776.50 649.87,780.07 645.10,783.30 C640.33,786.53 634.88,789.77 630.80,792.50 C626.72,795.23 623.15,797.48 620.60,799.70 C618.05,801.92 616.83,804.27 615.50,805.80 C614.17,807.33 613.83,808.90 612.60,808.90 C611.37,808.90 609.70,807.33 608.10,805.80 C606.50,804.27 605.55,801.92 603.00,799.70 C600.45,797.48 596.88,795.23 592.80,792.50 C588.72,789.77 583.27,786.53 578.50,783.30 C573.73,780.07 568.12,776.50 564.20,773.10 C560.28,769.70 556.88,766.13 555.00,762.90 C553.12,759.67 552.73,757.12 552.90,753.70 C553.07,750.28 554.12,745.98 556.00,742.40 C557.88,738.82 561.13,735.60 564.20,732.20 C567.27,728.80 570.65,725.40 574.40,722.00 C578.15,718.60 582.95,714.87 586.70,711.80 C590.45,708.73 594.02,706.15 596.90,703.60 C599.78,701.05 601.97,698.88 604.00,696.50 C606.03,694.12 607.63,691.28 609.10,689.30 C610.57,687.32 611.90,684.60 612.80,684.60 Z" fill="#4985af" fill-opacity="0.5" stroke="#6e7f8c" stroke-width="0.6"/>
<line x1="464.2" y1="700.2" x2="464.2" y2="789.7" stroke="#858585" stroke-width="0.85"/>
<line x1="456.60" y1="700.2" x2="471.80" y2="700.2" stroke="#858585" stroke-width="0.85"/>
<line x1="456.60" y1="789.7" x2="471.80" y2="789.7" stroke="#858585" stroke-width="0.85"/>
<rect x="449.10" y="734.3" width="30.2" height="28.90" fill="#deebf4" stroke="#7d7d7d" stroke-width="0.8"/>
<line x1="449.10" y1="756.1" x2="479.30" y2="756.1" stroke="#7d7d7d" stroke-width="0.8"/>
<line x1="611.8" y1="708.8" x2="611.8" y2="783.7" stroke="#7b8c9c" stroke-width="0.85"/>
<line x1="604.20" y1="708.8" x2="619.40" y2="708.8" stroke="#7b8c9c" stroke-width="0.85"/>
<line x1="604.20" y1="783.7" x2="619.40" y2="783.7" stroke="#7b8c9c" stroke-width="0.85"/>
<rect x="596.70" y="736.4" width="30.2" height="27.10" fill="#4d8bc1" stroke="#3d5566" stroke-width="0.8"/>
<line x1="596.70" y1="754" x2="626.90" y2="754" stroke="#3d5566" stroke-width="0.8"/>
<g stroke="#3f76b8" stroke-opacity="0.5" stroke-width="0.6">
<line x1="464.2" y1="700.2" x2="611.8" y2="708.8"/>
<line x1="464.2" y1="700.2" x2="611.8" y2="722.5"/>
<line x1="464.2" y1="714.9" x2="611.8" y2="733.8"/>
<line x1="464.2" y1="728.5" x2="611.8" y2="744.8"/>
<line x1="464.2" y1="729.8" x2="611.8" y2="719.3"/>
<line x1="464.2" y1="729.8" x2="611.8" y2="708.8"/>
<line x1="464.2" y1="742.5" x2="611.8" y2="758.7"/>
<line x1="464.2" y1="747.7" x2="611.8" y2="756.1"/>
<line x1="464.2" y1="752.2" x2="611.8" y2="758.7"/>
<line x1="464.2" y1="753" x2="611.8" y2="722.5"/>
<line x1="464.2" y1="753" x2="611.8" y2="779.8"/>
<line x1="464.2" y1="759.3" x2="611.8" y2="744.8"/>
<line x1="464.2" y1="760.6" x2="611.8" y2="753.5"/>
<line x1="464.2" y1="763.5" x2="611.8" y2="779.8"/>
<line x1="464.2" y1="767.9" x2="611.8" y2="774"/>
<line x1="464.2" y1="767.9" x2="611.8" y2="762.7"/>
<line x1="464.2" y1="771.9" x2="611.8" y2="736.9"/>
<line x1="464.2" y1="775.8" x2="611.8" y2="781.1"/>
<line x1="464.2" y1="789.7" x2="611.8" y2="783.7"/>
</g>
<g fill="#3366aa">
<circle cx="464.2" cy="700.2" r="1.35"/>
<circle cx="464.2" cy="714.9" r="1.35"/>
<circle cx="464.2" cy="728.5" r="1.35"/>
<circle cx="464.2" cy="729.8" r="1.35"/>
<circle cx="464.2" cy="742.5" r="1.35"/>
<circle cx="464.2" cy="747.7" r="1.35"/>
<circle cx="464.2" cy="752.2" r="1.35"/>
<circle cx="464.2" cy="753" r="1.35"/>
<circle cx="464.2" cy="759.3" r="1.35"/>
<circle cx="464.2" cy="760.6" r="1.35"/>
<circle cx="464.2" cy="763.5" r="1.35"/>
<circle cx="464.2" cy="767.9" r="1.35"/>
<circle cx="464.2" cy="771.9" r="1.35"/>
<circle cx="464.2" cy="775.8" r="1.35"/>
<circle cx="464.2" cy="789.7" r="1.35"/>
<circle cx="611.8" cy="708.8" r="1.35"/>
<circle cx="611.8" cy="719.3" r="1.35"/>
<circle cx="611.8" cy="722.5" r="1.35"/>
<circle cx="611.8" cy="733.8" r="1.35"/>
<circle cx="611.8" cy="736.9" r="1.35"/>
<circle cx="611.8" cy="744.8" r="1.35"/>
<circle cx="611.8" cy="753.5" r="1.35"/>
<circle cx="611.8" cy="756.1" r="1.35"/>
<circle cx="611.8" cy="758.7" r="1.35"/>
<circle cx="611.8" cy="762.7" r="1.35"/>
<circle cx="611.8" cy="774" r="1.35"/>
<circle cx="611.8" cy="779.8" r="1.35"/>
<circle cx="611.8" cy="781.1" r="1.35"/>
<circle cx="611.8" cy="783.7" r="1.35"/>
</g>
<text x="406.50" y="682.00" font-size="9.0" text-anchor="start" fill="#1a1a1a" font-weight="bold">p (LMM, FDR) = 0.92</text>
<text x="353.60" y="657.90" font-size="22" text-anchor="start" fill="#000" font-weight="bold">k</text>
</svg>
</body></html>
